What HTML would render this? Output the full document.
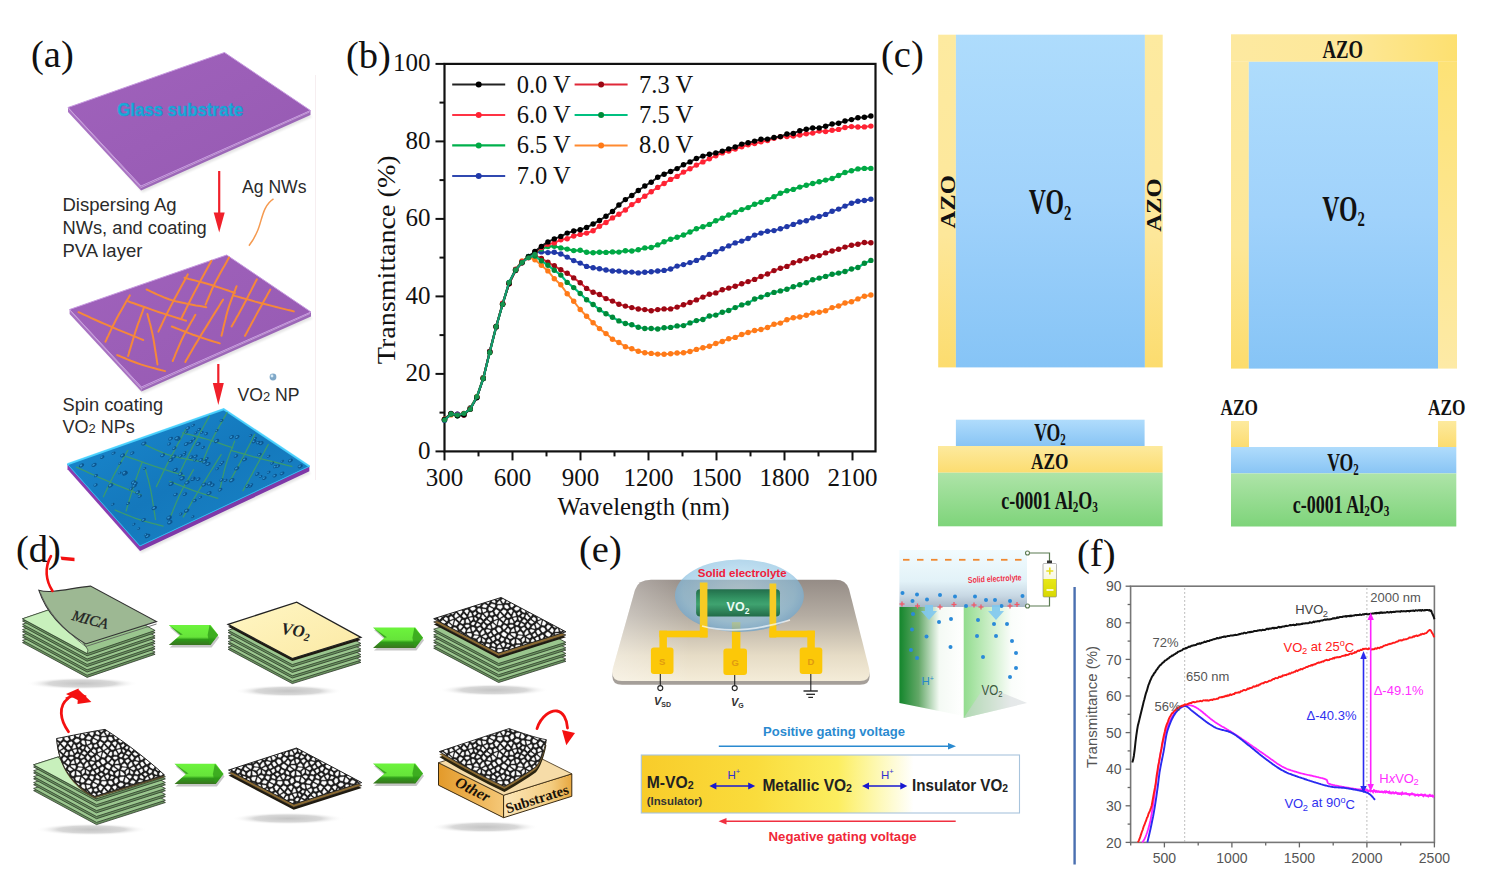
<!DOCTYPE html>
<html><head><meta charset="utf-8"><title>VO2 figure</title>
<style>html,body{margin:0;padding:0;background:#fff;} body{width:1486px;height:882px;overflow:hidden;} svg{display:block}</style>
</head><body>
<svg width="1486" height="882" viewBox="0 0 1486 882">
<rect width="1486" height="882" fill="#fff"/>
<text x="31" y="66.5" font-family='"Liberation Serif", serif' font-size="38.5" fill="#111">(a)</text><defs>
<linearGradient id="aPur" x1="0" y1="0" x2="1" y2="1"><stop offset="0" stop-color="#a062bc"/><stop offset="1" stop-color="#965ab2"/></linearGradient>
<linearGradient id="aBlu" x1="0" y1="0" x2="1" y2="1"><stop offset="0" stop-color="#1a8ad0"/><stop offset="0.5" stop-color="#1478bc"/><stop offset="1" stop-color="#1a86c8"/></linearGradient>
<filter id="soft" x="-10%" y="-10%" width="120%" height="120%"><feGaussianBlur stdDeviation="0.6"/></filter>
<filter id="soft2" x="-10%" y="-10%" width="120%" height="120%"><feGaussianBlur stdDeviation="1.2"/></filter>
</defs><polygon points="68,107.5 141,190.5 310.5,115 228.5,56.5" fill="#000" opacity="0.10" filter="url(#soft2)" transform="translate(1.5,2)"/><polygon points="68,107.5 141,186 141,190.5 68,112" fill="#a872c2"/><polygon points="141,186 310.5,110.5 310.5,115 141,190.5" fill="#9c68b8"/><polygon points="68,107.5 224.5,52.5 310.5,110.5 141,186" fill="url(#aPur)" stroke="#c79ae0" stroke-width="1"/><polyline points="69,109 141,187.5 309.5,112" fill="none" stroke="#c8a0d8" stroke-width="0.9"/><text x="117.2" y="115.8" font-family='"Liberation Sans", sans-serif' font-weight="bold" font-size="18.6" fill="#14b0d8" stroke="#2a8fd0" stroke-width="0.6" textLength="126" lengthAdjust="spacingAndGlyphs">Glass substrate</text><polygon points="69.6,309.5 141.4,391.5 311,316.5 230.7,259" fill="#000" opacity="0.10" filter="url(#soft2)" transform="translate(1.5,2)"/><polygon points="69.6,309.5 141.4,387 141.4,391.5 69.6,314" fill="#a872c2"/><polygon points="141.4,387 311,312 311,316.5 141.4,391.5" fill="#9c68b8"/><polygon points="69.6,309.5 226.7,255 311,312 141.4,387" fill="url(#aPur)" stroke="#c79ae0" stroke-width="1"/><polyline points="70.6,311 141.4,388.5 310,313.5" fill="none" stroke="#c8a0d8" stroke-width="0.9"/><polygon points="67.5,464.3 140,551 309.4,471.3 227.7,413.2" fill="#000" opacity="0.10" filter="url(#soft2)" transform="translate(1.5,2)"/><polygon points="67.5,464.3 140,546 140,551 67.5,469.3" fill="#8a3db0"/><polygon points="140,546 309.4,466.3 309.4,471.3 140,551" fill="#7f38a8"/><polygon points="67.5,464.3 223.7,409.2 309.4,466.3 140,546" fill="url(#aBlu)" stroke="#30b8f0" stroke-width="1"/><polyline points="67.5,464.3 223.7,409.2 309.4,466.3" fill="none" stroke="#4cd4ff" stroke-width="2.2" opacity="0.85"/><polyline points="78.5,312.2 80.8,313.2 83.8,314.6 87.4,316.2 91.4,318.1 95.7,320 100.1,322 104.5,323.9 108.7,325.7 113,327.5 117.8,329.6 122.8,331.6 127.8,333.7 132.6,335.6 136.9,337.4 140.5,338.9 143.2,340" fill="none" stroke="#f5883a" stroke-width="2" stroke-linecap="round"/><polyline points="117.2,355.1 119,355.8 121.4,356.8 124.3,358 127.4,359.3 130.8,360.7 134.2,362 137.6,363.3 140.7,364.4 143.9,365.4 147.3,366.4 150.9,367.4 154.4,368.3 157.7,369.2 160.7,370 163.2,370.6 165.1,371.1" fill="none" stroke="#f5883a" stroke-width="2" stroke-linecap="round"/><polyline points="105.4,341.7 106.2,340.1 107.1,338 108.3,335.6 109.6,332.8 111,329.8 112.4,326.7 114,323.7 115.5,320.7 117.2,317.6 119.1,314.1 121.2,310.4 123.3,306.7 125.3,303.2 127.1,300 128.7,297.4 129.8,295.4" fill="none" stroke="#f5883a" stroke-width="2" stroke-linecap="round"/><polyline points="128.1,356 128.7,354 129.4,351.4 130.4,348.3 131.4,344.9 132.5,341.2 133.6,337.6 134.7,334 135.7,330.8 136.8,327.6 137.9,324.2 139.2,320.8 140.4,317.4 141.5,314.3 142.6,311.4 143.4,309 144.1,307.2" fill="none" stroke="#f5883a" stroke-width="2" stroke-linecap="round"/><polyline points="128.1,301.3 130.5,302.2 133.8,303.3 137.7,304.7 142,306.2 146.5,307.8 151,309.4 155.3,310.9 159.2,312.2 162.9,313.4 166.9,314.7 170.8,315.9 174.6,317.1 178.2,318.2 181.4,319.2 184.1,320.1 186.1,320.7" fill="none" stroke="#f5883a" stroke-width="2" stroke-linecap="round"/><polyline points="146.6,289.5 148.6,290.4 151.1,291.6 154.1,293 157.5,294.6 161.2,296.2 165,297.8 168.9,299.3 172.7,300.5 176.8,301.6 181.4,302.6 186.2,303.6 191.1,304.5 195.8,305.4 200.1,306.1 203.7,306.7 206.3,307.2" fill="none" stroke="#f5883a" stroke-width="2" stroke-linecap="round"/><polyline points="147.4,314 147.8,315.5 148.3,317.4 148.9,319.6 149.6,322.2 150.4,324.9 151.1,327.9 151.8,331 152.5,334.1 153.2,337.6 153.9,341.7 154.6,346 155.3,350.5 156,354.8 156.6,358.7 157.1,362 157.5,364.4" fill="none" stroke="#f5883a" stroke-width="2" stroke-linecap="round"/><polyline points="158.4,331.6 159.2,329.9 160.2,327.8 161.4,325.3 162.7,322.4 164.2,319.3 165.8,315.9 167.5,312.5 169.3,308.9 171.4,304.9 173.8,300.3 176.5,295.3 179.2,290.2 181.9,285.3 184.3,280.9 186.3,277.1 187.8,274.4" fill="none" stroke="#f5883a" stroke-width="2" stroke-linecap="round"/><polyline points="172.7,361 173.5,359.2 174.5,356.8 175.6,353.9 177,350.7 178.4,347.3 179.9,343.9 181.3,340.6 182.8,337.5 184.3,334.5 186.1,331.2 187.9,327.9 189.7,324.7 191.5,321.6 193.1,318.9 194.4,316.5 195.4,314.8" fill="none" stroke="#f5883a" stroke-width="2" stroke-linecap="round"/><polyline points="171.8,326.5 173.7,327.2 176.2,328.2 179.2,329.4 182.5,330.7 186,332 189.6,333.4 193,334.7 196.2,335.8 199.3,336.9 202.7,338 206.1,339.1 209.5,340.2 212.7,341.2 215.6,342.1 218,342.8 219.8,343.4" fill="none" stroke="#f5883a" stroke-width="2" stroke-linecap="round"/><polyline points="185.3,361.9 186.3,360.1 187.7,357.8 189.2,355.1 191,352.1 192.9,348.7 195,345.1 197.3,341.4 199.6,337.5 202.3,333.1 205.4,328.1 208.8,322.6 212.2,317 215.6,311.6 218.7,306.7 221.2,302.6 223.1,299.6" fill="none" stroke="#f5883a" stroke-width="2" stroke-linecap="round"/><polyline points="184.5,277.8 186.4,278.3 189,279 192.1,279.7 195.5,280.6 199.1,281.6 202.8,282.5 206.4,283.5 209.7,284.5 213,285.5 216.6,286.7 220.3,287.9 223.9,289.1 227.3,290.3 230.4,291.4 233,292.2 234.9,292.9" fill="none" stroke="#f5883a" stroke-width="2" stroke-linecap="round"/><polyline points="181.1,319 182.1,317 183.4,314.3 185,311.1 186.7,307.5 188.6,303.7 190.6,299.8 192.6,295.9 194.5,292.1 196.6,288.2 198.9,283.9 201.3,279.3 203.8,274.8 206.1,270.5 208.3,266.6 210.1,263.3 211.4,260.9" fill="none" stroke="#f5883a" stroke-width="2" stroke-linecap="round"/><polyline points="205.5,304.7 206.2,303.1 207,301 208.1,298.5 209.2,295.8 210.5,292.8 211.8,289.7 213.2,286.6 214.7,283.6 216.3,280.4 218.3,276.8 220.3,273.1 222.4,269.3 224.5,265.7 226.3,262.4 227.9,259.6 229,257.6" fill="none" stroke="#f5883a" stroke-width="2" stroke-linecap="round"/><polyline points="221.5,335.8 222,333.7 222.7,330.9 223.4,327.5 224.3,323.8 225.3,319.9 226.2,316 227.2,312.2 228.2,308.9 229.2,305.7 230.4,302.4 231.6,299.1 232.8,295.9 234,292.9 235.1,290.2 235.9,287.9 236.6,286.2" fill="none" stroke="#f5883a" stroke-width="2" stroke-linecap="round"/><polyline points="231.6,326.5 232.5,324.9 233.7,322.8 235.1,320.4 236.6,317.6 238.3,314.7 240,311.6 241.7,308.5 243.3,305.5 245,302.3 246.9,298.7 248.8,294.9 250.8,291.1 252.6,287.5 254.3,284.2 255.7,281.4 256.8,279.4" fill="none" stroke="#f5883a" stroke-width="2" stroke-linecap="round"/><polyline points="245,335.8 245.9,334.1 247.1,331.9 248.5,329.3 250.1,326.4 251.7,323.3 253.5,320.1 255.2,316.9 256.8,313.9 258.5,310.8 260.4,307.4 262.3,303.9 264.3,300.3 266.2,297 267.8,293.9 269.2,291.4 270.3,289.5" fill="none" stroke="#f5883a" stroke-width="2" stroke-linecap="round"/><polyline points="233.2,295.4 235.5,296.1 238.6,296.9 242.3,298 246.5,299.1 250.8,300.3 255.2,301.6 259.5,302.7 263.5,303.8 267.5,304.8 271.8,305.9 276.2,307 280.5,308.1 284.7,309.1 288.4,310.1 291.5,310.8 293.8,311.4" fill="none" stroke="#f5883a" stroke-width="2" stroke-linecap="round"/><clipPath id="cq3"><polygon points="67.5,464.3 223.7,409.2 309.4,466.3 140,546"/></clipPath><g clip-path="url(#cq3)"><polyline points="76.5,467.2 78.8,468.2 81.8,469.6 85.4,471.2 89.4,473.1 93.7,475 98.1,477 102.5,478.9 106.7,480.7 111,482.5 115.8,484.6 120.8,486.6 125.8,488.7 130.6,490.6 134.9,492.4 138.5,493.9 141.2,495" fill="none" stroke="#3a9a70" stroke-width="1.3" stroke-linecap="round"/><polyline points="115.2,510.1 117,510.8 119.4,511.8 122.3,513 125.4,514.3 128.8,515.7 132.2,517 135.6,518.3 138.7,519.4 141.9,520.4 145.3,521.4 148.9,522.4 152.4,523.3 155.7,524.2 158.7,525 161.2,525.6 163.1,526.1" fill="none" stroke="#3a9a70" stroke-width="1.3" stroke-linecap="round"/><polyline points="103.4,496.7 104.2,495.1 105.1,493 106.3,490.6 107.6,487.8 109,484.8 110.4,481.7 112,478.7 113.5,475.7 115.2,472.6 117.1,469.1 119.2,465.4 121.3,461.7 123.3,458.2 125.1,455 126.7,452.4 127.8,450.4" fill="none" stroke="#3a9a70" stroke-width="1.3" stroke-linecap="round"/><polyline points="126.1,511 126.7,509 127.4,506.4 128.4,503.3 129.4,499.9 130.5,496.2 131.6,492.6 132.7,489 133.7,485.8 134.8,482.6 135.9,479.2 137.2,475.8 138.4,472.4 139.5,469.3 140.6,466.4 141.4,464 142.1,462.2" fill="none" stroke="#3a9a70" stroke-width="1.3" stroke-linecap="round"/><polyline points="126.1,456.3 128.5,457.2 131.8,458.3 135.7,459.7 140,461.2 144.5,462.8 149,464.4 153.3,465.9 157.2,467.2 160.9,468.4 164.9,469.7 168.8,470.9 172.6,472.1 176.2,473.2 179.4,474.2 182.1,475.1 184.1,475.7" fill="none" stroke="#3a9a70" stroke-width="1.3" stroke-linecap="round"/><polyline points="144.6,444.5 146.6,445.4 149.1,446.6 152.1,448 155.5,449.6 159.2,451.2 163,452.8 166.9,454.3 170.7,455.5 174.8,456.6 179.4,457.6 184.2,458.6 189.1,459.5 193.8,460.4 198.1,461.1 201.7,461.7 204.3,462.2" fill="none" stroke="#3a9a70" stroke-width="1.3" stroke-linecap="round"/><polyline points="145.4,469 145.8,470.5 146.3,472.4 146.9,474.6 147.6,477.2 148.4,479.9 149.1,482.9 149.8,486 150.5,489.1 151.2,492.6 151.9,496.7 152.6,501 153.3,505.5 154,509.8 154.6,513.7 155.1,517 155.5,519.4" fill="none" stroke="#3a9a70" stroke-width="1.3" stroke-linecap="round"/><polyline points="156.4,486.6 157.2,484.9 158.2,482.8 159.4,480.3 160.7,477.4 162.2,474.3 163.8,470.9 165.5,467.5 167.3,463.9 169.4,459.9 171.8,455.3 174.5,450.3 177.2,445.2 179.9,440.3 182.3,435.9 184.3,432.1 185.8,429.4" fill="none" stroke="#3a9a70" stroke-width="1.3" stroke-linecap="round"/><polyline points="170.7,516 171.5,514.2 172.5,511.8 173.6,508.9 175,505.7 176.4,502.3 177.9,498.9 179.3,495.6 180.8,492.5 182.3,489.5 184.1,486.2 185.9,482.9 187.7,479.7 189.5,476.6 191.1,473.9 192.4,471.5 193.4,469.8" fill="none" stroke="#3a9a70" stroke-width="1.3" stroke-linecap="round"/><polyline points="169.8,481.5 171.7,482.2 174.2,483.2 177.2,484.4 180.5,485.7 184,487 187.6,488.4 191,489.7 194.2,490.8 197.3,491.9 200.7,493 204.1,494.1 207.5,495.2 210.7,496.2 213.6,497.1 216,497.8 217.8,498.4" fill="none" stroke="#3a9a70" stroke-width="1.3" stroke-linecap="round"/><polyline points="183.3,516.9 184.3,515.1 185.7,512.8 187.2,510.1 189,507.1 190.9,503.7 193,500.1 195.3,496.4 197.6,492.5 200.3,488.1 203.4,483.1 206.8,477.6 210.2,472 213.6,466.6 216.7,461.7 219.2,457.6 221.1,454.6" fill="none" stroke="#3a9a70" stroke-width="1.3" stroke-linecap="round"/><polyline points="182.5,432.8 184.4,433.3 187,434 190.1,434.7 193.5,435.6 197.1,436.6 200.8,437.5 204.4,438.5 207.7,439.5 211,440.5 214.6,441.7 218.3,442.9 221.9,444.1 225.3,445.3 228.4,446.4 231,447.2 232.9,447.9" fill="none" stroke="#3a9a70" stroke-width="1.3" stroke-linecap="round"/><polyline points="179.1,474 180.1,472 181.4,469.3 183,466.1 184.7,462.5 186.6,458.7 188.6,454.8 190.6,450.9 192.5,447.1 194.6,443.2 196.9,438.9 199.3,434.3 201.8,429.8 204.1,425.5 206.3,421.6 208.1,418.3 209.4,415.9" fill="none" stroke="#3a9a70" stroke-width="1.3" stroke-linecap="round"/><polyline points="203.5,459.7 204.2,458.1 205,456 206.1,453.5 207.2,450.8 208.5,447.8 209.8,444.7 211.2,441.6 212.7,438.6 214.3,435.4 216.3,431.8 218.3,428.1 220.4,424.3 222.5,420.7 224.3,417.4 225.9,414.6 227,412.6" fill="none" stroke="#3a9a70" stroke-width="1.3" stroke-linecap="round"/><polyline points="219.5,490.8 220,488.7 220.7,485.9 221.4,482.5 222.3,478.8 223.3,474.9 224.2,471 225.2,467.2 226.2,463.9 227.2,460.7 228.4,457.4 229.6,454.1 230.8,450.9 232,447.9 233.1,445.2 233.9,442.9 234.6,441.2" fill="none" stroke="#3a9a70" stroke-width="1.3" stroke-linecap="round"/><polyline points="229.6,481.5 230.5,479.9 231.7,477.8 233.1,475.4 234.6,472.6 236.3,469.7 238,466.6 239.7,463.5 241.3,460.5 243,457.3 244.9,453.7 246.8,449.9 248.8,446.1 250.6,442.5 252.3,439.2 253.7,436.4 254.8,434.4" fill="none" stroke="#3a9a70" stroke-width="1.3" stroke-linecap="round"/><polyline points="243,490.8 243.9,489.1 245.1,486.9 246.5,484.3 248.1,481.4 249.7,478.3 251.5,475.1 253.2,471.9 254.8,468.9 256.5,465.8 258.4,462.4 260.3,458.9 262.3,455.3 264.2,452 265.8,448.9 267.2,446.4 268.3,444.5" fill="none" stroke="#3a9a70" stroke-width="1.3" stroke-linecap="round"/><polyline points="231.2,450.4 233.5,451.1 236.6,451.9 240.3,453 244.5,454.1 248.8,455.3 253.2,456.6 257.5,457.7 261.5,458.8 265.5,459.8 269.8,460.9 274.2,462 278.5,463.1 282.7,464.1 286.4,465.1 289.5,465.8 291.8,466.4" fill="none" stroke="#3a9a70" stroke-width="1.3" stroke-linecap="round"/><ellipse cx="182.2" cy="478.3" rx="2.9" ry="1.8" transform="rotate(-28 182.2 478.3)" fill="#0b4f86" opacity="0.85"/><ellipse cx="181.7" cy="478" rx="1.5" ry="0.9" transform="rotate(-28 182.2 478.3)" fill="#3ea6e4" opacity="0.8"/><ellipse cx="180.5" cy="474.1" rx="2.5" ry="1.6" transform="rotate(-28 180.5 474.1)" fill="#0b4f86" opacity="0.85"/><ellipse cx="180" cy="473.8" rx="1.3" ry="0.8" transform="rotate(-28 180.5 474.1)" fill="#3ea6e4" opacity="0.8"/><ellipse cx="137.7" cy="492.3" rx="2.6" ry="1.6" transform="rotate(-28 137.7 492.3)" fill="#0b4f86" opacity="0.85"/><ellipse cx="137.2" cy="492" rx="1.3" ry="0.8" transform="rotate(-28 137.7 492.3)" fill="#3ea6e4" opacity="0.8"/><ellipse cx="199.1" cy="429.5" rx="2.2" ry="1.3" transform="rotate(-28 199.1 429.5)" fill="#0b4f86" opacity="0.85"/><ellipse cx="198.6" cy="429.2" rx="1.1" ry="0.6" transform="rotate(-28 199.1 429.5)" fill="#3ea6e4" opacity="0.8"/><ellipse cx="143.6" cy="519.9" rx="2.6" ry="1.6" transform="rotate(-28 143.6 519.9)" fill="#0b4f86" opacity="0.85"/><ellipse cx="143.1" cy="519.6" rx="1.3" ry="0.8" transform="rotate(-28 143.6 519.9)" fill="#3ea6e4" opacity="0.8"/><ellipse cx="147.6" cy="536" rx="3" ry="1.8" transform="rotate(-28 147.6 536)" fill="#0b4f86" opacity="0.85"/><ellipse cx="147.1" cy="535.7" rx="1.5" ry="0.9" transform="rotate(-28 147.6 536)" fill="#3ea6e4" opacity="0.8"/><ellipse cx="217.3" cy="468.7" rx="2" ry="1.2" transform="rotate(-28 217.3 468.7)" fill="#0b4f86" opacity="0.85"/><ellipse cx="216.8" cy="468.4" rx="1" ry="0.6" transform="rotate(-28 217.3 468.7)" fill="#3ea6e4" opacity="0.8"/><ellipse cx="112.8" cy="504.3" rx="1.9" ry="1.2" transform="rotate(-28 112.8 504.3)" fill="#0b4f86" opacity="0.85"/><ellipse cx="112.3" cy="504" rx="0.9" ry="0.6" transform="rotate(-28 112.8 504.3)" fill="#3ea6e4" opacity="0.8"/><ellipse cx="119.9" cy="472.9" rx="1.8" ry="1.1" transform="rotate(-28 119.9 472.9)" fill="#0b4f86" opacity="0.85"/><ellipse cx="119.4" cy="472.6" rx="0.9" ry="0.6" transform="rotate(-28 119.9 472.9)" fill="#3ea6e4" opacity="0.8"/><ellipse cx="175.3" cy="469.9" rx="2.8" ry="1.7" transform="rotate(-28 175.3 469.9)" fill="#0b4f86" opacity="0.85"/><ellipse cx="174.8" cy="469.6" rx="1.4" ry="0.8" transform="rotate(-28 175.3 469.9)" fill="#3ea6e4" opacity="0.8"/><ellipse cx="198.3" cy="479.1" rx="2.4" ry="1.5" transform="rotate(-28 198.3 479.1)" fill="#0b4f86" opacity="0.85"/><ellipse cx="197.8" cy="478.8" rx="1.2" ry="0.7" transform="rotate(-28 198.3 479.1)" fill="#3ea6e4" opacity="0.8"/><ellipse cx="206.8" cy="458.6" rx="2.1" ry="1.3" transform="rotate(-28 206.8 458.6)" fill="#0b4f86" opacity="0.85"/><ellipse cx="206.3" cy="458.3" rx="1.1" ry="0.6" transform="rotate(-28 206.8 458.6)" fill="#3ea6e4" opacity="0.8"/><ellipse cx="300.2" cy="466.3" rx="2.8" ry="1.7" transform="rotate(-28 300.2 466.3)" fill="#0b4f86" opacity="0.85"/><ellipse cx="299.7" cy="466" rx="1.4" ry="0.8" transform="rotate(-28 300.2 466.3)" fill="#3ea6e4" opacity="0.8"/><ellipse cx="203.1" cy="447.3" rx="2.1" ry="1.3" transform="rotate(-28 203.1 447.3)" fill="#0b4f86" opacity="0.85"/><ellipse cx="202.6" cy="447" rx="1" ry="0.6" transform="rotate(-28 203.1 447.3)" fill="#3ea6e4" opacity="0.8"/><ellipse cx="122.6" cy="455.4" rx="2.7" ry="1.7" transform="rotate(-28 122.6 455.4)" fill="#0b4f86" opacity="0.85"/><ellipse cx="122.1" cy="455.1" rx="1.4" ry="0.8" transform="rotate(-28 122.6 455.4)" fill="#3ea6e4" opacity="0.8"/><ellipse cx="194.7" cy="500.6" rx="2.3" ry="1.4" transform="rotate(-28 194.7 500.6)" fill="#0b4f86" opacity="0.85"/><ellipse cx="194.2" cy="500.3" rx="1.1" ry="0.7" transform="rotate(-28 194.7 500.6)" fill="#3ea6e4" opacity="0.8"/><ellipse cx="282.3" cy="461.2" rx="1.8" ry="1.1" transform="rotate(-28 282.3 461.2)" fill="#0b4f86" opacity="0.85"/><ellipse cx="281.8" cy="460.9" rx="0.9" ry="0.5" transform="rotate(-28 282.3 461.2)" fill="#3ea6e4" opacity="0.8"/><ellipse cx="169.2" cy="518.6" rx="2.4" ry="1.5" transform="rotate(-28 169.2 518.6)" fill="#0b4f86" opacity="0.85"/><ellipse cx="168.7" cy="518.3" rx="1.2" ry="0.7" transform="rotate(-28 169.2 518.6)" fill="#3ea6e4" opacity="0.8"/><ellipse cx="250.6" cy="435.5" rx="1.9" ry="1.2" transform="rotate(-28 250.6 435.5)" fill="#0b4f86" opacity="0.85"/><ellipse cx="250.1" cy="435.2" rx="0.9" ry="0.6" transform="rotate(-28 250.6 435.5)" fill="#3ea6e4" opacity="0.8"/><ellipse cx="225.6" cy="480.3" rx="2.1" ry="1.3" transform="rotate(-28 225.6 480.3)" fill="#0b4f86" opacity="0.85"/><ellipse cx="225.1" cy="480" rx="1.1" ry="0.6" transform="rotate(-28 225.6 480.3)" fill="#3ea6e4" opacity="0.8"/><ellipse cx="110.6" cy="485.4" rx="3" ry="1.8" transform="rotate(-28 110.6 485.4)" fill="#0b4f86" opacity="0.85"/><ellipse cx="110.1" cy="485.1" rx="1.5" ry="0.9" transform="rotate(-28 110.6 485.4)" fill="#3ea6e4" opacity="0.8"/><ellipse cx="195.7" cy="432.8" rx="2.1" ry="1.3" transform="rotate(-28 195.7 432.8)" fill="#0b4f86" opacity="0.85"/><ellipse cx="195.2" cy="432.5" rx="1" ry="0.6" transform="rotate(-28 195.7 432.8)" fill="#3ea6e4" opacity="0.8"/><ellipse cx="94.1" cy="464.9" rx="2.8" ry="1.7" transform="rotate(-28 94.1 464.9)" fill="#0b4f86" opacity="0.85"/><ellipse cx="93.6" cy="464.6" rx="1.4" ry="0.8" transform="rotate(-28 94.1 464.9)" fill="#3ea6e4" opacity="0.8"/><ellipse cx="139.9" cy="496.1" rx="2.3" ry="1.4" transform="rotate(-28 139.9 496.1)" fill="#0b4f86" opacity="0.85"/><ellipse cx="139.4" cy="495.8" rx="1.2" ry="0.7" transform="rotate(-28 139.9 496.1)" fill="#3ea6e4" opacity="0.8"/><ellipse cx="153.9" cy="507.4" rx="2" ry="1.2" transform="rotate(-28 153.9 507.4)" fill="#0b4f86" opacity="0.85"/><ellipse cx="153.4" cy="507.1" rx="1" ry="0.6" transform="rotate(-28 153.9 507.4)" fill="#3ea6e4" opacity="0.8"/><ellipse cx="178.6" cy="439" rx="2.3" ry="1.4" transform="rotate(-28 178.6 439)" fill="#0b4f86" opacity="0.85"/><ellipse cx="178.1" cy="438.7" rx="1.2" ry="0.7" transform="rotate(-28 178.6 439)" fill="#3ea6e4" opacity="0.8"/><ellipse cx="125.2" cy="473.5" rx="3" ry="1.8" transform="rotate(-28 125.2 473.5)" fill="#0b4f86" opacity="0.85"/><ellipse cx="124.7" cy="473.2" rx="1.5" ry="0.9" transform="rotate(-28 125.2 473.5)" fill="#3ea6e4" opacity="0.8"/><ellipse cx="216.7" cy="441" rx="2.9" ry="1.8" transform="rotate(-28 216.7 441)" fill="#0b4f86" opacity="0.85"/><ellipse cx="216.2" cy="440.7" rx="1.4" ry="0.9" transform="rotate(-28 216.7 441)" fill="#3ea6e4" opacity="0.8"/><ellipse cx="133.5" cy="482.4" rx="2.8" ry="1.8" transform="rotate(-28 133.5 482.4)" fill="#0b4f86" opacity="0.85"/><ellipse cx="133" cy="482.1" rx="1.4" ry="0.8" transform="rotate(-28 133.5 482.4)" fill="#3ea6e4" opacity="0.8"/><ellipse cx="177.1" cy="438.2" rx="3" ry="1.9" transform="rotate(-28 177.1 438.2)" fill="#0b4f86" opacity="0.85"/><ellipse cx="176.6" cy="437.9" rx="1.5" ry="0.9" transform="rotate(-28 177.1 438.2)" fill="#3ea6e4" opacity="0.8"/><ellipse cx="124.5" cy="472.7" rx="2.7" ry="1.7" transform="rotate(-28 124.5 472.7)" fill="#0b4f86" opacity="0.85"/><ellipse cx="124" cy="472.4" rx="1.4" ry="0.8" transform="rotate(-28 124.5 472.7)" fill="#3ea6e4" opacity="0.8"/><ellipse cx="144.6" cy="468.5" rx="1.9" ry="1.2" transform="rotate(-28 144.6 468.5)" fill="#0b4f86" opacity="0.85"/><ellipse cx="144.1" cy="468.2" rx="0.9" ry="0.6" transform="rotate(-28 144.6 468.5)" fill="#3ea6e4" opacity="0.8"/><ellipse cx="128.1" cy="503.4" rx="2.1" ry="1.3" transform="rotate(-28 128.1 503.4)" fill="#0b4f86" opacity="0.85"/><ellipse cx="127.6" cy="503.1" rx="1" ry="0.6" transform="rotate(-28 128.1 503.4)" fill="#3ea6e4" opacity="0.8"/><ellipse cx="191.2" cy="457.1" rx="2.3" ry="1.5" transform="rotate(-28 191.2 457.1)" fill="#0b4f86" opacity="0.85"/><ellipse cx="190.7" cy="456.8" rx="1.2" ry="0.7" transform="rotate(-28 191.2 457.1)" fill="#3ea6e4" opacity="0.8"/><ellipse cx="254.1" cy="441.5" rx="2.5" ry="1.5" transform="rotate(-28 254.1 441.5)" fill="#0b4f86" opacity="0.85"/><ellipse cx="253.6" cy="441.2" rx="1.2" ry="0.7" transform="rotate(-28 254.1 441.5)" fill="#3ea6e4" opacity="0.8"/><ellipse cx="216.8" cy="430.5" rx="2" ry="1.2" transform="rotate(-28 216.8 430.5)" fill="#0b4f86" opacity="0.85"/><ellipse cx="216.3" cy="430.2" rx="1" ry="0.6" transform="rotate(-28 216.8 430.5)" fill="#3ea6e4" opacity="0.8"/><ellipse cx="272.3" cy="463.1" rx="2.1" ry="1.3" transform="rotate(-28 272.3 463.1)" fill="#0b4f86" opacity="0.85"/><ellipse cx="271.8" cy="462.8" rx="1" ry="0.6" transform="rotate(-28 272.3 463.1)" fill="#3ea6e4" opacity="0.8"/><ellipse cx="154.3" cy="508" rx="2.9" ry="1.8" transform="rotate(-28 154.3 508)" fill="#0b4f86" opacity="0.85"/><ellipse cx="153.8" cy="507.7" rx="1.5" ry="0.9" transform="rotate(-28 154.3 508)" fill="#3ea6e4" opacity="0.8"/><ellipse cx="169.9" cy="522.3" rx="2.9" ry="1.8" transform="rotate(-28 169.9 522.3)" fill="#0b4f86" opacity="0.85"/><ellipse cx="169.4" cy="522" rx="1.4" ry="0.9" transform="rotate(-28 169.9 522.3)" fill="#3ea6e4" opacity="0.8"/><ellipse cx="195.2" cy="460" rx="1.9" ry="1.2" transform="rotate(-28 195.2 460)" fill="#0b4f86" opacity="0.85"/><ellipse cx="194.7" cy="459.7" rx="1" ry="0.6" transform="rotate(-28 195.2 460)" fill="#3ea6e4" opacity="0.8"/><ellipse cx="145.8" cy="534.8" rx="2.1" ry="1.3" transform="rotate(-28 145.8 534.8)" fill="#0b4f86" opacity="0.85"/><ellipse cx="145.3" cy="534.5" rx="1" ry="0.6" transform="rotate(-28 145.8 534.8)" fill="#3ea6e4" opacity="0.8"/><ellipse cx="198.2" cy="444" rx="2.8" ry="1.7" transform="rotate(-28 198.2 444)" fill="#0b4f86" opacity="0.85"/><ellipse cx="197.7" cy="443.7" rx="1.4" ry="0.8" transform="rotate(-28 198.2 444)" fill="#3ea6e4" opacity="0.8"/><ellipse cx="184.7" cy="452.6" rx="2" ry="1.2" transform="rotate(-28 184.7 452.6)" fill="#0b4f86" opacity="0.85"/><ellipse cx="184.2" cy="452.3" rx="1" ry="0.6" transform="rotate(-28 184.7 452.6)" fill="#3ea6e4" opacity="0.8"/><ellipse cx="186.4" cy="432" rx="2.1" ry="1.3" transform="rotate(-28 186.4 432)" fill="#0b4f86" opacity="0.85"/><ellipse cx="185.9" cy="431.7" rx="1" ry="0.6" transform="rotate(-28 186.4 432)" fill="#3ea6e4" opacity="0.8"/><ellipse cx="220.1" cy="489.7" rx="2.5" ry="1.6" transform="rotate(-28 220.1 489.7)" fill="#0b4f86" opacity="0.85"/><ellipse cx="219.6" cy="489.4" rx="1.3" ry="0.8" transform="rotate(-28 220.1 489.7)" fill="#3ea6e4" opacity="0.8"/><ellipse cx="180.8" cy="514" rx="2" ry="1.3" transform="rotate(-28 180.8 514)" fill="#0b4f86" opacity="0.85"/><ellipse cx="180.3" cy="513.7" rx="1" ry="0.6" transform="rotate(-28 180.8 514)" fill="#3ea6e4" opacity="0.8"/><ellipse cx="95.6" cy="485" rx="2.3" ry="1.4" transform="rotate(-28 95.6 485)" fill="#0b4f86" opacity="0.85"/><ellipse cx="95.1" cy="484.7" rx="1.2" ry="0.7" transform="rotate(-28 95.6 485)" fill="#3ea6e4" opacity="0.8"/><ellipse cx="96" cy="475.6" rx="2.2" ry="1.4" transform="rotate(-28 96 475.6)" fill="#0b4f86" opacity="0.85"/><ellipse cx="95.5" cy="475.3" rx="1.1" ry="0.7" transform="rotate(-28 96 475.6)" fill="#3ea6e4" opacity="0.8"/><ellipse cx="169.1" cy="443.9" rx="2.2" ry="1.4" transform="rotate(-28 169.1 443.9)" fill="#0b4f86" opacity="0.85"/><ellipse cx="168.6" cy="443.6" rx="1.1" ry="0.7" transform="rotate(-28 169.1 443.9)" fill="#3ea6e4" opacity="0.8"/><ellipse cx="282.1" cy="473.4" rx="2.6" ry="1.6" transform="rotate(-28 282.1 473.4)" fill="#0b4f86" opacity="0.85"/><ellipse cx="281.6" cy="473.1" rx="1.3" ry="0.8" transform="rotate(-28 282.1 473.4)" fill="#3ea6e4" opacity="0.8"/><ellipse cx="220.7" cy="464.4" rx="2" ry="1.2" transform="rotate(-28 220.7 464.4)" fill="#0b4f86" opacity="0.85"/><ellipse cx="220.2" cy="464.1" rx="1" ry="0.6" transform="rotate(-28 220.7 464.4)" fill="#3ea6e4" opacity="0.8"/><ellipse cx="81.5" cy="465.4" rx="2.9" ry="1.8" transform="rotate(-28 81.5 465.4)" fill="#0b4f86" opacity="0.85"/><ellipse cx="81" cy="465.1" rx="1.4" ry="0.9" transform="rotate(-28 81.5 465.4)" fill="#3ea6e4" opacity="0.8"/><ellipse cx="250.6" cy="486.3" rx="1.8" ry="1.1" transform="rotate(-28 250.6 486.3)" fill="#0b4f86" opacity="0.85"/><ellipse cx="250.1" cy="486" rx="0.9" ry="0.5" transform="rotate(-28 250.6 486.3)" fill="#3ea6e4" opacity="0.8"/><ellipse cx="204.7" cy="461.7" rx="2.7" ry="1.7" transform="rotate(-28 204.7 461.7)" fill="#0b4f86" opacity="0.85"/><ellipse cx="204.2" cy="461.4" rx="1.3" ry="0.8" transform="rotate(-28 204.7 461.7)" fill="#3ea6e4" opacity="0.8"/><ellipse cx="192.7" cy="516.7" rx="1.9" ry="1.2" transform="rotate(-28 192.7 516.7)" fill="#0b4f86" opacity="0.85"/><ellipse cx="192.2" cy="516.4" rx="0.9" ry="0.6" transform="rotate(-28 192.7 516.7)" fill="#3ea6e4" opacity="0.8"/><ellipse cx="209.6" cy="483.4" rx="2.9" ry="1.8" transform="rotate(-28 209.6 483.4)" fill="#0b4f86" opacity="0.85"/><ellipse cx="209.1" cy="483.1" rx="1.4" ry="0.9" transform="rotate(-28 209.6 483.4)" fill="#3ea6e4" opacity="0.8"/><ellipse cx="236.8" cy="468.4" rx="2.8" ry="1.7" transform="rotate(-28 236.8 468.4)" fill="#0b4f86" opacity="0.85"/><ellipse cx="236.3" cy="468.1" rx="1.4" ry="0.8" transform="rotate(-28 236.8 468.4)" fill="#3ea6e4" opacity="0.8"/><ellipse cx="237.2" cy="437" rx="2.6" ry="1.6" transform="rotate(-28 237.2 437)" fill="#0b4f86" opacity="0.85"/><ellipse cx="236.7" cy="436.7" rx="1.3" ry="0.8" transform="rotate(-28 237.2 437)" fill="#3ea6e4" opacity="0.8"/><ellipse cx="275.2" cy="466.6" rx="2.3" ry="1.4" transform="rotate(-28 275.2 466.6)" fill="#0b4f86" opacity="0.85"/><ellipse cx="274.7" cy="466.3" rx="1.2" ry="0.7" transform="rotate(-28 275.2 466.6)" fill="#3ea6e4" opacity="0.8"/><ellipse cx="257.3" cy="474" rx="2.5" ry="1.5" transform="rotate(-28 257.3 474)" fill="#0b4f86" opacity="0.85"/><ellipse cx="256.8" cy="473.7" rx="1.2" ry="0.7" transform="rotate(-28 257.3 474)" fill="#3ea6e4" opacity="0.8"/><ellipse cx="195.5" cy="456.3" rx="2.5" ry="1.5" transform="rotate(-28 195.5 456.3)" fill="#0b4f86" opacity="0.85"/><ellipse cx="195" cy="456" rx="1.2" ry="0.7" transform="rotate(-28 195.5 456.3)" fill="#3ea6e4" opacity="0.8"/><ellipse cx="170.7" cy="438.7" rx="2.6" ry="1.6" transform="rotate(-28 170.7 438.7)" fill="#0b4f86" opacity="0.85"/><ellipse cx="170.2" cy="438.4" rx="1.3" ry="0.8" transform="rotate(-28 170.7 438.7)" fill="#3ea6e4" opacity="0.8"/><ellipse cx="290.4" cy="460.5" rx="2.7" ry="1.7" transform="rotate(-28 290.4 460.5)" fill="#0b4f86" opacity="0.85"/><ellipse cx="289.9" cy="460.2" rx="1.3" ry="0.8" transform="rotate(-28 290.4 460.5)" fill="#3ea6e4" opacity="0.8"/><ellipse cx="184.9" cy="494.1" rx="2.5" ry="1.5" transform="rotate(-28 184.9 494.1)" fill="#0b4f86" opacity="0.85"/><ellipse cx="184.4" cy="493.8" rx="1.2" ry="0.7" transform="rotate(-28 184.9 494.1)" fill="#3ea6e4" opacity="0.8"/><ellipse cx="200.4" cy="497.3" rx="1.9" ry="1.2" transform="rotate(-28 200.4 497.3)" fill="#0b4f86" opacity="0.85"/><ellipse cx="199.9" cy="497" rx="1" ry="0.6" transform="rotate(-28 200.4 497.3)" fill="#3ea6e4" opacity="0.8"/><ellipse cx="187.9" cy="428.1" rx="2.5" ry="1.6" transform="rotate(-28 187.9 428.1)" fill="#0b4f86" opacity="0.85"/><ellipse cx="187.4" cy="427.8" rx="1.3" ry="0.8" transform="rotate(-28 187.9 428.1)" fill="#3ea6e4" opacity="0.8"/><ellipse cx="162.7" cy="455.3" rx="2.6" ry="1.6" transform="rotate(-28 162.7 455.3)" fill="#0b4f86" opacity="0.85"/><ellipse cx="162.2" cy="455" rx="1.3" ry="0.8" transform="rotate(-28 162.7 455.3)" fill="#3ea6e4" opacity="0.8"/><ellipse cx="193.1" cy="478.9" rx="2.9" ry="1.8" transform="rotate(-28 193.1 478.9)" fill="#0b4f86" opacity="0.85"/><ellipse cx="192.6" cy="478.6" rx="1.5" ry="0.9" transform="rotate(-28 193.1 478.9)" fill="#3ea6e4" opacity="0.8"/><ellipse cx="113.6" cy="453.2" rx="2.2" ry="1.3" transform="rotate(-28 113.6 453.2)" fill="#0b4f86" opacity="0.85"/><ellipse cx="113.1" cy="452.9" rx="1.1" ry="0.6" transform="rotate(-28 113.6 453.2)" fill="#3ea6e4" opacity="0.8"/><ellipse cx="190.2" cy="442.3" rx="2" ry="1.2" transform="rotate(-28 190.2 442.3)" fill="#0b4f86" opacity="0.85"/><ellipse cx="189.7" cy="442" rx="1" ry="0.6" transform="rotate(-28 190.2 442.3)" fill="#3ea6e4" opacity="0.8"/><ellipse cx="259.6" cy="454.6" rx="2.3" ry="1.4" transform="rotate(-28 259.6 454.6)" fill="#0b4f86" opacity="0.85"/><ellipse cx="259.1" cy="454.3" rx="1.2" ry="0.7" transform="rotate(-28 259.6 454.6)" fill="#3ea6e4" opacity="0.8"/><ellipse cx="231.7" cy="437" rx="2.6" ry="1.6" transform="rotate(-28 231.7 437)" fill="#0b4f86" opacity="0.85"/><ellipse cx="231.2" cy="436.7" rx="1.3" ry="0.8" transform="rotate(-28 231.7 437)" fill="#3ea6e4" opacity="0.8"/><ellipse cx="134.2" cy="485.7" rx="2.8" ry="1.7" transform="rotate(-28 134.2 485.7)" fill="#0b4f86" opacity="0.85"/><ellipse cx="133.7" cy="485.4" rx="1.4" ry="0.8" transform="rotate(-28 134.2 485.7)" fill="#3ea6e4" opacity="0.8"/><ellipse cx="278" cy="466.1" rx="2.3" ry="1.4" transform="rotate(-28 278 466.1)" fill="#0b4f86" opacity="0.85"/><ellipse cx="277.5" cy="465.8" rx="1.1" ry="0.7" transform="rotate(-28 278 466.1)" fill="#3ea6e4" opacity="0.8"/><ellipse cx="184.3" cy="454.8" rx="2" ry="1.2" transform="rotate(-28 184.3 454.8)" fill="#0b4f86" opacity="0.85"/><ellipse cx="183.8" cy="454.5" rx="1" ry="0.6" transform="rotate(-28 184.3 454.8)" fill="#3ea6e4" opacity="0.8"/><ellipse cx="209.1" cy="493.2" rx="2.8" ry="1.7" transform="rotate(-28 209.1 493.2)" fill="#0b4f86" opacity="0.85"/><ellipse cx="208.6" cy="492.9" rx="1.4" ry="0.8" transform="rotate(-28 209.1 493.2)" fill="#3ea6e4" opacity="0.8"/><ellipse cx="251.3" cy="484.8" rx="2.1" ry="1.3" transform="rotate(-28 251.3 484.8)" fill="#0b4f86" opacity="0.85"/><ellipse cx="250.8" cy="484.5" rx="1.1" ry="0.6" transform="rotate(-28 251.3 484.8)" fill="#3ea6e4" opacity="0.8"/><ellipse cx="131.1" cy="488.9" rx="2.1" ry="1.3" transform="rotate(-28 131.1 488.9)" fill="#0b4f86" opacity="0.85"/><ellipse cx="130.6" cy="488.6" rx="1.1" ry="0.6" transform="rotate(-28 131.1 488.9)" fill="#3ea6e4" opacity="0.8"/><ellipse cx="135.4" cy="483.5" rx="2.6" ry="1.6" transform="rotate(-28 135.4 483.5)" fill="#0b4f86" opacity="0.85"/><ellipse cx="134.9" cy="483.2" rx="1.3" ry="0.8" transform="rotate(-28 135.4 483.5)" fill="#3ea6e4" opacity="0.8"/><ellipse cx="170.8" cy="460" rx="2.8" ry="1.7" transform="rotate(-28 170.8 460)" fill="#0b4f86" opacity="0.85"/><ellipse cx="170.3" cy="459.7" rx="1.4" ry="0.8" transform="rotate(-28 170.8 460)" fill="#3ea6e4" opacity="0.8"/><ellipse cx="255.2" cy="438.4" rx="1.9" ry="1.2" transform="rotate(-28 255.2 438.4)" fill="#0b4f86" opacity="0.85"/><ellipse cx="254.7" cy="438.1" rx="0.9" ry="0.6" transform="rotate(-28 255.2 438.4)" fill="#3ea6e4" opacity="0.8"/><ellipse cx="138.6" cy="528.7" rx="1.8" ry="1.1" transform="rotate(-28 138.6 528.7)" fill="#0b4f86" opacity="0.85"/><ellipse cx="138.1" cy="528.4" rx="0.9" ry="0.6" transform="rotate(-28 138.6 528.7)" fill="#3ea6e4" opacity="0.8"/><ellipse cx="222.4" cy="462.4" rx="2.2" ry="1.3" transform="rotate(-28 222.4 462.4)" fill="#0b4f86" opacity="0.85"/><ellipse cx="221.9" cy="462.1" rx="1.1" ry="0.7" transform="rotate(-28 222.4 462.4)" fill="#3ea6e4" opacity="0.8"/><ellipse cx="193.2" cy="425.3" rx="2" ry="1.2" transform="rotate(-28 193.2 425.3)" fill="#0b4f86" opacity="0.85"/><ellipse cx="192.7" cy="425" rx="1" ry="0.6" transform="rotate(-28 193.2 425.3)" fill="#3ea6e4" opacity="0.8"/><ellipse cx="143.9" cy="443.5" rx="2.8" ry="1.7" transform="rotate(-28 143.9 443.5)" fill="#0b4f86" opacity="0.85"/><ellipse cx="143.4" cy="443.2" rx="1.4" ry="0.8" transform="rotate(-28 143.9 443.5)" fill="#3ea6e4" opacity="0.8"/><ellipse cx="119.9" cy="463.2" rx="1.9" ry="1.2" transform="rotate(-28 119.9 463.2)" fill="#0b4f86" opacity="0.85"/><ellipse cx="119.4" cy="462.9" rx="0.9" ry="0.6" transform="rotate(-28 119.9 463.2)" fill="#3ea6e4" opacity="0.8"/><ellipse cx="200.9" cy="460" rx="2.6" ry="1.6" transform="rotate(-28 200.9 460)" fill="#0b4f86" opacity="0.85"/><ellipse cx="200.4" cy="459.7" rx="1.3" ry="0.8" transform="rotate(-28 200.9 460)" fill="#3ea6e4" opacity="0.8"/><ellipse cx="231.8" cy="480.2" rx="3" ry="1.8" transform="rotate(-28 231.8 480.2)" fill="#0b4f86" opacity="0.85"/><ellipse cx="231.3" cy="479.9" rx="1.5" ry="0.9" transform="rotate(-28 231.8 480.2)" fill="#3ea6e4" opacity="0.8"/><ellipse cx="190.9" cy="441.7" rx="2.4" ry="1.5" transform="rotate(-28 190.9 441.7)" fill="#0b4f86" opacity="0.85"/><ellipse cx="190.4" cy="441.4" rx="1.2" ry="0.7" transform="rotate(-28 190.9 441.7)" fill="#3ea6e4" opacity="0.8"/><ellipse cx="102.2" cy="457.2" rx="2.4" ry="1.5" transform="rotate(-28 102.2 457.2)" fill="#0b4f86" opacity="0.85"/><ellipse cx="101.7" cy="456.9" rx="1.2" ry="0.7" transform="rotate(-28 102.2 457.2)" fill="#3ea6e4" opacity="0.8"/><ellipse cx="193.8" cy="438.9" rx="2.1" ry="1.3" transform="rotate(-28 193.8 438.9)" fill="#0b4f86" opacity="0.85"/><ellipse cx="193.3" cy="438.6" rx="1.1" ry="0.6" transform="rotate(-28 193.8 438.9)" fill="#3ea6e4" opacity="0.8"/><ellipse cx="175.6" cy="494.5" rx="2.4" ry="1.5" transform="rotate(-28 175.6 494.5)" fill="#0b4f86" opacity="0.85"/><ellipse cx="175.1" cy="494.2" rx="1.2" ry="0.7" transform="rotate(-28 175.6 494.5)" fill="#3ea6e4" opacity="0.8"/><ellipse cx="221.6" cy="479.9" rx="2.3" ry="1.4" transform="rotate(-28 221.6 479.9)" fill="#0b4f86" opacity="0.85"/><ellipse cx="221.1" cy="479.6" rx="1.1" ry="0.7" transform="rotate(-28 221.6 479.9)" fill="#3ea6e4" opacity="0.8"/><ellipse cx="260.7" cy="476.4" rx="1.9" ry="1.2" transform="rotate(-28 260.7 476.4)" fill="#0b4f86" opacity="0.85"/><ellipse cx="260.2" cy="476.1" rx="1" ry="0.6" transform="rotate(-28 260.7 476.4)" fill="#3ea6e4" opacity="0.8"/><ellipse cx="268.6" cy="456.2" rx="2" ry="1.2" transform="rotate(-28 268.6 456.2)" fill="#0b4f86" opacity="0.85"/><ellipse cx="268.1" cy="455.9" rx="1" ry="0.6" transform="rotate(-28 268.6 456.2)" fill="#3ea6e4" opacity="0.8"/><ellipse cx="187.1" cy="482.5" rx="2.9" ry="1.8" transform="rotate(-28 187.1 482.5)" fill="#0b4f86" opacity="0.85"/><ellipse cx="186.6" cy="482.2" rx="1.4" ry="0.9" transform="rotate(-28 187.1 482.5)" fill="#3ea6e4" opacity="0.8"/><ellipse cx="171.2" cy="483.8" rx="2.9" ry="1.8" transform="rotate(-28 171.2 483.8)" fill="#0b4f86" opacity="0.85"/><ellipse cx="170.7" cy="483.5" rx="1.4" ry="0.9" transform="rotate(-28 171.2 483.8)" fill="#3ea6e4" opacity="0.8"/><ellipse cx="264.4" cy="478.2" rx="2.4" ry="1.5" transform="rotate(-28 264.4 478.2)" fill="#0b4f86" opacity="0.85"/><ellipse cx="263.9" cy="477.9" rx="1.2" ry="0.7" transform="rotate(-28 264.4 478.2)" fill="#3ea6e4" opacity="0.8"/><ellipse cx="186.3" cy="444" rx="2.7" ry="1.7" transform="rotate(-28 186.3 444)" fill="#0b4f86" opacity="0.85"/><ellipse cx="185.8" cy="443.7" rx="1.3" ry="0.8" transform="rotate(-28 186.3 444)" fill="#3ea6e4" opacity="0.8"/><ellipse cx="244.7" cy="459.4" rx="2.7" ry="1.6" transform="rotate(-28 244.7 459.4)" fill="#0b4f86" opacity="0.85"/><ellipse cx="244.2" cy="459.1" rx="1.3" ry="0.8" transform="rotate(-28 244.7 459.4)" fill="#3ea6e4" opacity="0.8"/><ellipse cx="169.1" cy="517.6" rx="3" ry="1.8" transform="rotate(-28 169.1 517.6)" fill="#0b4f86" opacity="0.85"/><ellipse cx="168.6" cy="517.3" rx="1.5" ry="0.9" transform="rotate(-28 169.1 517.6)" fill="#3ea6e4" opacity="0.8"/><ellipse cx="261.1" cy="443.2" rx="2.7" ry="1.7" transform="rotate(-28 261.1 443.2)" fill="#0b4f86" opacity="0.85"/><ellipse cx="260.6" cy="442.9" rx="1.4" ry="0.8" transform="rotate(-28 261.1 443.2)" fill="#3ea6e4" opacity="0.8"/><ellipse cx="186.7" cy="510.6" rx="2.8" ry="1.8" transform="rotate(-28 186.7 510.6)" fill="#0b4f86" opacity="0.85"/><ellipse cx="186.2" cy="510.3" rx="1.4" ry="0.8" transform="rotate(-28 186.7 510.6)" fill="#3ea6e4" opacity="0.8"/><ellipse cx="132.3" cy="453.1" rx="2.3" ry="1.4" transform="rotate(-28 132.3 453.1)" fill="#0b4f86" opacity="0.85"/><ellipse cx="131.8" cy="452.8" rx="1.2" ry="0.7" transform="rotate(-28 132.3 453.1)" fill="#3ea6e4" opacity="0.8"/><ellipse cx="212.5" cy="485.1" rx="2.4" ry="1.5" transform="rotate(-28 212.5 485.1)" fill="#0b4f86" opacity="0.85"/><ellipse cx="212" cy="484.8" rx="1.2" ry="0.7" transform="rotate(-28 212.5 485.1)" fill="#3ea6e4" opacity="0.8"/><ellipse cx="133.8" cy="524.2" rx="1.9" ry="1.2" transform="rotate(-28 133.8 524.2)" fill="#0b4f86" opacity="0.85"/><ellipse cx="133.3" cy="523.9" rx="0.9" ry="0.6" transform="rotate(-28 133.8 524.2)" fill="#3ea6e4" opacity="0.8"/><ellipse cx="206.1" cy="433.7" rx="2.2" ry="1.4" transform="rotate(-28 206.1 433.7)" fill="#0b4f86" opacity="0.85"/><ellipse cx="205.6" cy="433.4" rx="1.1" ry="0.7" transform="rotate(-28 206.1 433.7)" fill="#3ea6e4" opacity="0.8"/><ellipse cx="201.9" cy="432.5" rx="2" ry="1.2" transform="rotate(-28 201.9 432.5)" fill="#0b4f86" opacity="0.85"/><ellipse cx="201.4" cy="432.2" rx="1" ry="0.6" transform="rotate(-28 201.9 432.5)" fill="#3ea6e4" opacity="0.8"/><ellipse cx="204" cy="484.6" rx="2.8" ry="1.7" transform="rotate(-28 204 484.6)" fill="#0b4f86" opacity="0.85"/><ellipse cx="203.5" cy="484.3" rx="1.4" ry="0.8" transform="rotate(-28 204 484.6)" fill="#3ea6e4" opacity="0.8"/><ellipse cx="247.5" cy="486.1" rx="2.4" ry="1.5" transform="rotate(-28 247.5 486.1)" fill="#0b4f86" opacity="0.85"/><ellipse cx="247" cy="485.8" rx="1.2" ry="0.7" transform="rotate(-28 247.5 486.1)" fill="#3ea6e4" opacity="0.8"/><ellipse cx="221.6" cy="420.5" rx="2.1" ry="1.3" transform="rotate(-28 221.6 420.5)" fill="#0b4f86" opacity="0.85"/><ellipse cx="221.1" cy="420.2" rx="1" ry="0.6" transform="rotate(-28 221.6 420.5)" fill="#3ea6e4" opacity="0.8"/><ellipse cx="173.9" cy="456.5" rx="2.7" ry="1.7" transform="rotate(-28 173.9 456.5)" fill="#0b4f86" opacity="0.85"/><ellipse cx="173.4" cy="456.2" rx="1.3" ry="0.8" transform="rotate(-28 173.9 456.5)" fill="#3ea6e4" opacity="0.8"/><ellipse cx="208.1" cy="464" rx="2.8" ry="1.7" transform="rotate(-28 208.1 464)" fill="#0b4f86" opacity="0.85"/><ellipse cx="207.6" cy="463.7" rx="1.4" ry="0.8" transform="rotate(-28 208.1 464)" fill="#3ea6e4" opacity="0.8"/><ellipse cx="180.5" cy="455.9" rx="2.3" ry="1.4" transform="rotate(-28 180.5 455.9)" fill="#0b4f86" opacity="0.85"/><ellipse cx="180" cy="455.6" rx="1.1" ry="0.7" transform="rotate(-28 180.5 455.9)" fill="#3ea6e4" opacity="0.8"/><ellipse cx="268.7" cy="472.2" rx="2" ry="1.3" transform="rotate(-28 268.7 472.2)" fill="#0b4f86" opacity="0.85"/><ellipse cx="268.2" cy="471.9" rx="1" ry="0.6" transform="rotate(-28 268.7 472.2)" fill="#3ea6e4" opacity="0.8"/><ellipse cx="274.8" cy="475.6" rx="2.4" ry="1.5" transform="rotate(-28 274.8 475.6)" fill="#0b4f86" opacity="0.85"/><ellipse cx="274.3" cy="475.3" rx="1.2" ry="0.7" transform="rotate(-28 274.8 475.6)" fill="#3ea6e4" opacity="0.8"/><ellipse cx="174.3" cy="448.2" rx="2.4" ry="1.5" transform="rotate(-28 174.3 448.2)" fill="#0b4f86" opacity="0.85"/><ellipse cx="173.8" cy="447.9" rx="1.2" ry="0.7" transform="rotate(-28 174.3 448.2)" fill="#3ea6e4" opacity="0.8"/><ellipse cx="193.3" cy="478" rx="1.8" ry="1.1" transform="rotate(-28 193.3 478)" fill="#0b4f86" opacity="0.85"/><ellipse cx="192.8" cy="477.7" rx="0.9" ry="0.5" transform="rotate(-28 193.3 478)" fill="#3ea6e4" opacity="0.8"/><ellipse cx="258.2" cy="442.6" rx="2.3" ry="1.4" transform="rotate(-28 258.2 442.6)" fill="#0b4f86" opacity="0.85"/><ellipse cx="257.7" cy="442.3" rx="1.1" ry="0.7" transform="rotate(-28 258.2 442.6)" fill="#3ea6e4" opacity="0.8"/><ellipse cx="236" cy="456" rx="2.4" ry="1.5" transform="rotate(-28 236 456)" fill="#0b4f86" opacity="0.85"/><ellipse cx="235.5" cy="455.7" rx="1.2" ry="0.7" transform="rotate(-28 236 456)" fill="#3ea6e4" opacity="0.8"/></g><text x="62.5" y="211.2" font-family='"Liberation Sans", sans-serif' font-size="18.5" fill="#2a2a2a">Dispersing Ag</text><text x="62.5" y="234" font-family='"Liberation Sans", sans-serif' font-size="18.3" fill="#2a2a2a">NWs, and coating</text><text x="62.5" y="257" font-family='"Liberation Sans", sans-serif' font-size="18.5" fill="#2a2a2a">PVA layer</text><text x="242" y="192.6" font-family='"Liberation Sans", sans-serif' font-size="17.6" fill="#2a2a2a">Ag NWs</text><text x="62.5" y="411.2" font-family='"Liberation Sans", sans-serif' font-size="18.3" fill="#2a2a2a">Spin coating</text><text x="62.5" y="433" font-family='"Liberation Sans", sans-serif' font-size="18" fill="#2a2a2a">VO<tspan font-size="13">2</tspan> NPs</text><text x="237.5" y="401.2" font-family='"Liberation Sans", sans-serif' font-size="17.6" fill="#2a2a2a">VO<tspan font-size="13">2</tspan> NP</text><line x1="219.2" y1="171" x2="219.2" y2="214.5" stroke="#f0202a" stroke-width="2.2"/><polygon points="213.7,212.5 224.7,212.5 219.2,232.5" fill="#f0202a"/><line x1="218.3" y1="364" x2="218.3" y2="385" stroke="#f0202a" stroke-width="2.2"/><polygon points="212.8,383 223.8,383 218.3,405" fill="#f0202a"/><path d="M273.5,198.8 C262,206 262,222 257,232 C254,239 251,243 249,245.7" fill="none" stroke="#f59a50" stroke-width="1.5"/><circle cx="273" cy="377" r="3.4" fill="#7fa8c8"/><circle cx="272" cy="376" r="1.4" fill="#d8ecf8"/><line x1="315.5" y1="75" x2="315.5" y2="480" stroke="#f6eef0" stroke-width="1"/><text x="346" y="68" font-family='"Liberation Serif", serif' font-size="38.5" fill="#111">(b)</text><rect x="444.5" y="63.9" width="431.0" height="387.5" fill="none" stroke="#111" stroke-width="2.2"/><line x1="435.5" y1="451.4" x2="444.5" y2="451.4" stroke="#111" stroke-width="2"/><line x1="439.5" y1="412.6" x2="444.5" y2="412.6" stroke="#111" stroke-width="2"/><line x1="435.5" y1="373.9" x2="444.5" y2="373.9" stroke="#111" stroke-width="2"/><line x1="439.5" y1="335.1" x2="444.5" y2="335.1" stroke="#111" stroke-width="2"/><line x1="435.5" y1="296.4" x2="444.5" y2="296.4" stroke="#111" stroke-width="2"/><line x1="439.5" y1="257.6" x2="444.5" y2="257.6" stroke="#111" stroke-width="2"/><line x1="435.5" y1="218.9" x2="444.5" y2="218.9" stroke="#111" stroke-width="2"/><line x1="439.5" y1="180.1" x2="444.5" y2="180.1" stroke="#111" stroke-width="2"/><line x1="435.5" y1="141.4" x2="444.5" y2="141.4" stroke="#111" stroke-width="2"/><line x1="439.5" y1="102.6" x2="444.5" y2="102.6" stroke="#111" stroke-width="2"/><line x1="435.5" y1="63.9" x2="444.5" y2="63.9" stroke="#111" stroke-width="2"/><text x="430.5" y="458.6" text-anchor="end" font-family='"Liberation Serif", serif' font-size="25" fill="#111">0</text><text x="430.5" y="381.1" text-anchor="end" font-family='"Liberation Serif", serif' font-size="25" fill="#111">20</text><text x="430.5" y="303.6" text-anchor="end" font-family='"Liberation Serif", serif' font-size="25" fill="#111">40</text><text x="430.5" y="226.1" text-anchor="end" font-family='"Liberation Serif", serif' font-size="25" fill="#111">60</text><text x="430.5" y="148.6" text-anchor="end" font-family='"Liberation Serif", serif' font-size="25" fill="#111">80</text><text x="430.5" y="71.1" text-anchor="end" font-family='"Liberation Serif", serif' font-size="25" fill="#111">100</text><line x1="444.5" y1="451.4" x2="444.5" y2="460.4" stroke="#111" stroke-width="2"/><line x1="478.5" y1="451.4" x2="478.5" y2="456.4" stroke="#111" stroke-width="2"/><line x1="512.5" y1="451.4" x2="512.5" y2="460.4" stroke="#111" stroke-width="2"/><line x1="546.5" y1="451.4" x2="546.5" y2="456.4" stroke="#111" stroke-width="2"/><line x1="580.5" y1="451.4" x2="580.5" y2="460.4" stroke="#111" stroke-width="2"/><line x1="614.5" y1="451.4" x2="614.5" y2="456.4" stroke="#111" stroke-width="2"/><line x1="648.5" y1="451.4" x2="648.5" y2="460.4" stroke="#111" stroke-width="2"/><line x1="682.5" y1="451.4" x2="682.5" y2="456.4" stroke="#111" stroke-width="2"/><line x1="716.5" y1="451.4" x2="716.5" y2="460.4" stroke="#111" stroke-width="2"/><line x1="750.5" y1="451.4" x2="750.5" y2="456.4" stroke="#111" stroke-width="2"/><line x1="784.5" y1="451.4" x2="784.5" y2="460.4" stroke="#111" stroke-width="2"/><line x1="818.5" y1="451.4" x2="818.5" y2="456.4" stroke="#111" stroke-width="2"/><line x1="852.5" y1="451.4" x2="852.5" y2="460.4" stroke="#111" stroke-width="2"/><text x="444.5" y="486" text-anchor="middle" font-family='"Liberation Serif", serif' font-size="25" fill="#111">300</text><text x="512.5" y="486" text-anchor="middle" font-family='"Liberation Serif", serif' font-size="25" fill="#111">600</text><text x="580.5" y="486" text-anchor="middle" font-family='"Liberation Serif", serif' font-size="25" fill="#111">900</text><text x="648.5" y="486" text-anchor="middle" font-family='"Liberation Serif", serif' font-size="25" fill="#111">1200</text><text x="716.5" y="486" text-anchor="middle" font-family='"Liberation Serif", serif' font-size="25" fill="#111">1500</text><text x="784.5" y="486" text-anchor="middle" font-family='"Liberation Serif", serif' font-size="25" fill="#111">1800</text><text x="852.5" y="486" text-anchor="middle" font-family='"Liberation Serif", serif' font-size="25" fill="#111">2100</text><text x="643.4" y="515.4" text-anchor="middle" font-family='"Liberation Serif", serif' font-size="25.2" fill="#111" textLength="172" lengthAdjust="spacingAndGlyphs">Wavelength (nm)</text><text transform="translate(395.3,259.8) rotate(-90)" text-anchor="middle" font-family='"Liberation Serif", serif' font-size="26" fill="#111" textLength="209" lengthAdjust="spacingAndGlyphs">Transmittance (%)</text><polyline points="444.5,419.3 451,414.9 457.4,414.9 463.9,414.4 470.3,407.9 476.8,396.6 483.3,378.5 489.7,352.3 496.2,327.3 502.6,303.9 509.1,282.6 515.6,269.2 522,261 528.5,256.8 534.9,259.8 541.4,265.2 547.9,270.9 554.3,278.7 560.8,284.8 567.2,293.7 573.7,301.3 580.2,309.5 586.6,316.2 593.1,322.8 599.5,328.6 606,333.6 612.5,339.3 618.9,342.5 625.4,346.7 631.8,348.7 638.3,351.2 644.8,352.8 651.2,353.4 657.7,354.1 664.1,354.2 670.6,353.8 677.1,353 683.5,352.8 690,351.5 696.4,349.4 702.9,347.8 709.4,346.2 715.8,343.5 722.3,341.5 728.7,338.7 735.2,337.4 741.7,334.5 748.1,332.5 754.6,330.5 761,329.5 767.5,327.5 774,324.3 780.4,323.1 786.9,319.7 793.3,317.7 799.8,317 806.3,315.2 812.7,313 819.2,312.2 825.6,310.7 832.1,307.6 838.6,306 845,303 851.5,301.7 857.9,298.9 864.4,296.2 870.9,295" fill="none" stroke="#ff8a30" stroke-width="2.0" stroke-linejoin="round"/><g fill="#ff7a18"><circle cx="444.5" cy="419.3" r="2.7"/><circle cx="451" cy="414.9" r="2.7"/><circle cx="457.4" cy="414.9" r="2.7"/><circle cx="463.9" cy="414.4" r="2.7"/><circle cx="470.3" cy="407.9" r="2.7"/><circle cx="476.8" cy="396.6" r="2.7"/><circle cx="483.3" cy="378.5" r="2.7"/><circle cx="489.7" cy="352.3" r="2.7"/><circle cx="496.2" cy="327.3" r="2.7"/><circle cx="502.6" cy="303.9" r="2.7"/><circle cx="509.1" cy="282.6" r="2.7"/><circle cx="515.6" cy="269.2" r="2.7"/><circle cx="522" cy="261" r="2.7"/><circle cx="528.5" cy="256.8" r="2.7"/><circle cx="534.9" cy="259.8" r="2.7"/><circle cx="541.4" cy="265.2" r="2.7"/><circle cx="547.9" cy="270.9" r="2.7"/><circle cx="554.3" cy="278.7" r="2.7"/><circle cx="560.8" cy="284.8" r="2.7"/><circle cx="567.2" cy="293.7" r="2.7"/><circle cx="573.7" cy="301.3" r="2.7"/><circle cx="580.2" cy="309.5" r="2.7"/><circle cx="586.6" cy="316.2" r="2.7"/><circle cx="593.1" cy="322.8" r="2.7"/><circle cx="599.5" cy="328.6" r="2.7"/><circle cx="606" cy="333.6" r="2.7"/><circle cx="612.5" cy="339.3" r="2.7"/><circle cx="618.9" cy="342.5" r="2.7"/><circle cx="625.4" cy="346.7" r="2.7"/><circle cx="631.8" cy="348.7" r="2.7"/><circle cx="638.3" cy="351.2" r="2.7"/><circle cx="644.8" cy="352.8" r="2.7"/><circle cx="651.2" cy="353.4" r="2.7"/><circle cx="657.7" cy="354.1" r="2.7"/><circle cx="664.1" cy="354.2" r="2.7"/><circle cx="670.6" cy="353.8" r="2.7"/><circle cx="677.1" cy="353" r="2.7"/><circle cx="683.5" cy="352.8" r="2.7"/><circle cx="690" cy="351.5" r="2.7"/><circle cx="696.4" cy="349.4" r="2.7"/><circle cx="702.9" cy="347.8" r="2.7"/><circle cx="709.4" cy="346.2" r="2.7"/><circle cx="715.8" cy="343.5" r="2.7"/><circle cx="722.3" cy="341.5" r="2.7"/><circle cx="728.7" cy="338.7" r="2.7"/><circle cx="735.2" cy="337.4" r="2.7"/><circle cx="741.7" cy="334.5" r="2.7"/><circle cx="748.1" cy="332.5" r="2.7"/><circle cx="754.6" cy="330.5" r="2.7"/><circle cx="761" cy="329.5" r="2.7"/><circle cx="767.5" cy="327.5" r="2.7"/><circle cx="774" cy="324.3" r="2.7"/><circle cx="780.4" cy="323.1" r="2.7"/><circle cx="786.9" cy="319.7" r="2.7"/><circle cx="793.3" cy="317.7" r="2.7"/><circle cx="799.8" cy="317" r="2.7"/><circle cx="806.3" cy="315.2" r="2.7"/><circle cx="812.7" cy="313" r="2.7"/><circle cx="819.2" cy="312.2" r="2.7"/><circle cx="825.6" cy="310.7" r="2.7"/><circle cx="832.1" cy="307.6" r="2.7"/><circle cx="838.6" cy="306" r="2.7"/><circle cx="845" cy="303" r="2.7"/><circle cx="851.5" cy="301.7" r="2.7"/><circle cx="857.9" cy="298.9" r="2.7"/><circle cx="864.4" cy="296.2" r="2.7"/><circle cx="870.9" cy="295" r="2.7"/></g><polyline points="444.5,420.1 451,413.9 457.4,414.3 463.9,413.5 470.3,409.2 476.8,397.3 483.3,377.8 489.7,352.2 496.2,326.4 502.6,304.2 509.1,283.8 515.6,270.5 522,262.7 528.5,256.9 534.9,255.6 541.4,258.4 547.9,262.3 554.3,265.8 560.8,269.8 567.2,273.3 573.7,277.9 580.2,282.7 586.6,288.4 593.1,292.3 599.5,294.5 606,298.6 612.5,301.1 618.9,304.2 625.4,306.1 631.8,307.6 638.3,309 644.8,309.6 651.2,310.8 657.7,309.6 664.1,308.9 670.6,308.9 677.1,307.1 683.5,304.7 690,302.5 696.4,299.9 702.9,297.1 709.4,294.2 715.8,292.9 722.3,289.8 728.7,288.1 735.2,286.3 741.7,283.8 748.1,281.6 754.6,279.4 761,276.5 767.5,274 774,270.6 780.4,268.2 786.9,266.4 793.3,262.8 799.8,260.8 806.3,258.7 812.7,256.8 819.2,255.6 825.6,252.9 832.1,251 838.6,249.3 845,247.1 851.5,245.2 857.9,244.2 864.4,242.5 870.9,242.8" fill="none" stroke="#e02838" stroke-width="2.0" stroke-linejoin="round"/><g fill="#9a0814"><circle cx="444.5" cy="420.1" r="2.7"/><circle cx="451" cy="413.9" r="2.7"/><circle cx="457.4" cy="414.3" r="2.7"/><circle cx="463.9" cy="413.5" r="2.7"/><circle cx="470.3" cy="409.2" r="2.7"/><circle cx="476.8" cy="397.3" r="2.7"/><circle cx="483.3" cy="377.8" r="2.7"/><circle cx="489.7" cy="352.2" r="2.7"/><circle cx="496.2" cy="326.4" r="2.7"/><circle cx="502.6" cy="304.2" r="2.7"/><circle cx="509.1" cy="283.8" r="2.7"/><circle cx="515.6" cy="270.5" r="2.7"/><circle cx="522" cy="262.7" r="2.7"/><circle cx="528.5" cy="256.9" r="2.7"/><circle cx="534.9" cy="255.6" r="2.7"/><circle cx="541.4" cy="258.4" r="2.7"/><circle cx="547.9" cy="262.3" r="2.7"/><circle cx="554.3" cy="265.8" r="2.7"/><circle cx="560.8" cy="269.8" r="2.7"/><circle cx="567.2" cy="273.3" r="2.7"/><circle cx="573.7" cy="277.9" r="2.7"/><circle cx="580.2" cy="282.7" r="2.7"/><circle cx="586.6" cy="288.4" r="2.7"/><circle cx="593.1" cy="292.3" r="2.7"/><circle cx="599.5" cy="294.5" r="2.7"/><circle cx="606" cy="298.6" r="2.7"/><circle cx="612.5" cy="301.1" r="2.7"/><circle cx="618.9" cy="304.2" r="2.7"/><circle cx="625.4" cy="306.1" r="2.7"/><circle cx="631.8" cy="307.6" r="2.7"/><circle cx="638.3" cy="309" r="2.7"/><circle cx="644.8" cy="309.6" r="2.7"/><circle cx="651.2" cy="310.8" r="2.7"/><circle cx="657.7" cy="309.6" r="2.7"/><circle cx="664.1" cy="308.9" r="2.7"/><circle cx="670.6" cy="308.9" r="2.7"/><circle cx="677.1" cy="307.1" r="2.7"/><circle cx="683.5" cy="304.7" r="2.7"/><circle cx="690" cy="302.5" r="2.7"/><circle cx="696.4" cy="299.9" r="2.7"/><circle cx="702.9" cy="297.1" r="2.7"/><circle cx="709.4" cy="294.2" r="2.7"/><circle cx="715.8" cy="292.9" r="2.7"/><circle cx="722.3" cy="289.8" r="2.7"/><circle cx="728.7" cy="288.1" r="2.7"/><circle cx="735.2" cy="286.3" r="2.7"/><circle cx="741.7" cy="283.8" r="2.7"/><circle cx="748.1" cy="281.6" r="2.7"/><circle cx="754.6" cy="279.4" r="2.7"/><circle cx="761" cy="276.5" r="2.7"/><circle cx="767.5" cy="274" r="2.7"/><circle cx="774" cy="270.6" r="2.7"/><circle cx="780.4" cy="268.2" r="2.7"/><circle cx="786.9" cy="266.4" r="2.7"/><circle cx="793.3" cy="262.8" r="2.7"/><circle cx="799.8" cy="260.8" r="2.7"/><circle cx="806.3" cy="258.7" r="2.7"/><circle cx="812.7" cy="256.8" r="2.7"/><circle cx="819.2" cy="255.6" r="2.7"/><circle cx="825.6" cy="252.9" r="2.7"/><circle cx="832.1" cy="251" r="2.7"/><circle cx="838.6" cy="249.3" r="2.7"/><circle cx="845" cy="247.1" r="2.7"/><circle cx="851.5" cy="245.2" r="2.7"/><circle cx="857.9" cy="244.2" r="2.7"/><circle cx="864.4" cy="242.5" r="2.7"/><circle cx="870.9" cy="242.8" r="2.7"/></g><polyline points="444.5,419.9 451,414.3 457.4,415.7 463.9,414.4 470.3,408.4 476.8,397.1 483.3,378.6 489.7,351.5 496.2,326.4 502.6,304 509.1,282.9 515.6,269.7 522,261.9 528.5,257.1 534.9,256 541.4,260.8 547.9,265.3 554.3,270.2 560.8,275.1 567.2,282.4 573.7,287.6 580.2,293.5 586.6,299.8 593.1,304.5 599.5,309.7 606,313.7 612.5,317.2 618.9,320.9 625.4,323.5 631.8,324.8 638.3,327.2 644.8,328.5 651.2,328.5 657.7,329 664.1,327.8 670.6,327.4 677.1,325.9 683.5,325.6 690,322.9 696.4,320.6 702.9,319.5 709.4,316 715.8,315.1 722.3,312.3 728.7,310.5 735.2,307.6 741.7,304.9 748.1,303.1 754.6,299 761,297.1 767.5,294.6 774,292.4 780.4,290.9 786.9,289.2 793.3,286.7 799.8,284.7 806.3,282.8 812.7,279.8 819.2,278.1 825.6,276.4 832.1,274.3 838.6,273.1 845,271.5 851.5,269 857.9,267.5 864.4,263.3 870.9,260.4" fill="none" stroke="#00c080" stroke-width="2.2" stroke-linejoin="round"/><g fill="#008a38"><circle cx="444.5" cy="419.9" r="2.7"/><circle cx="451" cy="414.3" r="2.7"/><circle cx="457.4" cy="415.7" r="2.7"/><circle cx="463.9" cy="414.4" r="2.7"/><circle cx="470.3" cy="408.4" r="2.7"/><circle cx="476.8" cy="397.1" r="2.7"/><circle cx="483.3" cy="378.6" r="2.7"/><circle cx="489.7" cy="351.5" r="2.7"/><circle cx="496.2" cy="326.4" r="2.7"/><circle cx="502.6" cy="304" r="2.7"/><circle cx="509.1" cy="282.9" r="2.7"/><circle cx="515.6" cy="269.7" r="2.7"/><circle cx="522" cy="261.9" r="2.7"/><circle cx="528.5" cy="257.1" r="2.7"/><circle cx="534.9" cy="256" r="2.7"/><circle cx="541.4" cy="260.8" r="2.7"/><circle cx="547.9" cy="265.3" r="2.7"/><circle cx="554.3" cy="270.2" r="2.7"/><circle cx="560.8" cy="275.1" r="2.7"/><circle cx="567.2" cy="282.4" r="2.7"/><circle cx="573.7" cy="287.6" r="2.7"/><circle cx="580.2" cy="293.5" r="2.7"/><circle cx="586.6" cy="299.8" r="2.7"/><circle cx="593.1" cy="304.5" r="2.7"/><circle cx="599.5" cy="309.7" r="2.7"/><circle cx="606" cy="313.7" r="2.7"/><circle cx="612.5" cy="317.2" r="2.7"/><circle cx="618.9" cy="320.9" r="2.7"/><circle cx="625.4" cy="323.5" r="2.7"/><circle cx="631.8" cy="324.8" r="2.7"/><circle cx="638.3" cy="327.2" r="2.7"/><circle cx="644.8" cy="328.5" r="2.7"/><circle cx="651.2" cy="328.5" r="2.7"/><circle cx="657.7" cy="329" r="2.7"/><circle cx="664.1" cy="327.8" r="2.7"/><circle cx="670.6" cy="327.4" r="2.7"/><circle cx="677.1" cy="325.9" r="2.7"/><circle cx="683.5" cy="325.6" r="2.7"/><circle cx="690" cy="322.9" r="2.7"/><circle cx="696.4" cy="320.6" r="2.7"/><circle cx="702.9" cy="319.5" r="2.7"/><circle cx="709.4" cy="316" r="2.7"/><circle cx="715.8" cy="315.1" r="2.7"/><circle cx="722.3" cy="312.3" r="2.7"/><circle cx="728.7" cy="310.5" r="2.7"/><circle cx="735.2" cy="307.6" r="2.7"/><circle cx="741.7" cy="304.9" r="2.7"/><circle cx="748.1" cy="303.1" r="2.7"/><circle cx="754.6" cy="299" r="2.7"/><circle cx="761" cy="297.1" r="2.7"/><circle cx="767.5" cy="294.6" r="2.7"/><circle cx="774" cy="292.4" r="2.7"/><circle cx="780.4" cy="290.9" r="2.7"/><circle cx="786.9" cy="289.2" r="2.7"/><circle cx="793.3" cy="286.7" r="2.7"/><circle cx="799.8" cy="284.7" r="2.7"/><circle cx="806.3" cy="282.8" r="2.7"/><circle cx="812.7" cy="279.8" r="2.7"/><circle cx="819.2" cy="278.1" r="2.7"/><circle cx="825.6" cy="276.4" r="2.7"/><circle cx="832.1" cy="274.3" r="2.7"/><circle cx="838.6" cy="273.1" r="2.7"/><circle cx="845" cy="271.5" r="2.7"/><circle cx="851.5" cy="269" r="2.7"/><circle cx="857.9" cy="267.5" r="2.7"/><circle cx="864.4" cy="263.3" r="2.7"/><circle cx="870.9" cy="260.4" r="2.7"/></g><polyline points="444.5,420.3 451,413.5 457.4,414.3 463.9,414.9 470.3,408 476.8,397.4 483.3,378.2 489.7,351.5 496.2,327.1 502.6,303.7 509.1,282.4 515.6,269.5 522,262.2 528.5,256.4 534.9,252.2 541.4,251.9 547.9,252.6 554.3,252.3 560.8,254 567.2,257.1 573.7,260.6 580.2,263.1 586.6,266.4 593.1,267.8 599.5,268.8 606,270 612.5,271 618.9,271.1 625.4,272.1 631.8,272.1 638.3,272.9 644.8,272.2 651.2,271.7 657.7,271 664.1,270.4 670.6,269 677.1,266.1 683.5,264.6 690,262.6 696.4,260.4 702.9,257.8 709.4,254.4 715.8,251.7 722.3,248.8 728.7,245.9 735.2,242.9 741.7,241.1 748.1,238.5 754.6,235.1 761,233.1 767.5,231.2 774,230.6 780.4,228.8 786.9,226.6 793.3,224.4 799.8,222 806.3,220.7 812.7,217.9 819.2,216.5 825.6,214.4 832.1,211.3 838.6,209.1 845,206.1 851.5,203.2 857.9,201.3 864.4,200.5 870.9,199.3" fill="none" stroke="#3048b0" stroke-width="2.0" stroke-linejoin="round"/><g fill="#2038a8"><circle cx="444.5" cy="420.3" r="2.7"/><circle cx="451" cy="413.5" r="2.7"/><circle cx="457.4" cy="414.3" r="2.7"/><circle cx="463.9" cy="414.9" r="2.7"/><circle cx="470.3" cy="408" r="2.7"/><circle cx="476.8" cy="397.4" r="2.7"/><circle cx="483.3" cy="378.2" r="2.7"/><circle cx="489.7" cy="351.5" r="2.7"/><circle cx="496.2" cy="327.1" r="2.7"/><circle cx="502.6" cy="303.7" r="2.7"/><circle cx="509.1" cy="282.4" r="2.7"/><circle cx="515.6" cy="269.5" r="2.7"/><circle cx="522" cy="262.2" r="2.7"/><circle cx="528.5" cy="256.4" r="2.7"/><circle cx="534.9" cy="252.2" r="2.7"/><circle cx="541.4" cy="251.9" r="2.7"/><circle cx="547.9" cy="252.6" r="2.7"/><circle cx="554.3" cy="252.3" r="2.7"/><circle cx="560.8" cy="254" r="2.7"/><circle cx="567.2" cy="257.1" r="2.7"/><circle cx="573.7" cy="260.6" r="2.7"/><circle cx="580.2" cy="263.1" r="2.7"/><circle cx="586.6" cy="266.4" r="2.7"/><circle cx="593.1" cy="267.8" r="2.7"/><circle cx="599.5" cy="268.8" r="2.7"/><circle cx="606" cy="270" r="2.7"/><circle cx="612.5" cy="271" r="2.7"/><circle cx="618.9" cy="271.1" r="2.7"/><circle cx="625.4" cy="272.1" r="2.7"/><circle cx="631.8" cy="272.1" r="2.7"/><circle cx="638.3" cy="272.9" r="2.7"/><circle cx="644.8" cy="272.2" r="2.7"/><circle cx="651.2" cy="271.7" r="2.7"/><circle cx="657.7" cy="271" r="2.7"/><circle cx="664.1" cy="270.4" r="2.7"/><circle cx="670.6" cy="269" r="2.7"/><circle cx="677.1" cy="266.1" r="2.7"/><circle cx="683.5" cy="264.6" r="2.7"/><circle cx="690" cy="262.6" r="2.7"/><circle cx="696.4" cy="260.4" r="2.7"/><circle cx="702.9" cy="257.8" r="2.7"/><circle cx="709.4" cy="254.4" r="2.7"/><circle cx="715.8" cy="251.7" r="2.7"/><circle cx="722.3" cy="248.8" r="2.7"/><circle cx="728.7" cy="245.9" r="2.7"/><circle cx="735.2" cy="242.9" r="2.7"/><circle cx="741.7" cy="241.1" r="2.7"/><circle cx="748.1" cy="238.5" r="2.7"/><circle cx="754.6" cy="235.1" r="2.7"/><circle cx="761" cy="233.1" r="2.7"/><circle cx="767.5" cy="231.2" r="2.7"/><circle cx="774" cy="230.6" r="2.7"/><circle cx="780.4" cy="228.8" r="2.7"/><circle cx="786.9" cy="226.6" r="2.7"/><circle cx="793.3" cy="224.4" r="2.7"/><circle cx="799.8" cy="222" r="2.7"/><circle cx="806.3" cy="220.7" r="2.7"/><circle cx="812.7" cy="217.9" r="2.7"/><circle cx="819.2" cy="216.5" r="2.7"/><circle cx="825.6" cy="214.4" r="2.7"/><circle cx="832.1" cy="211.3" r="2.7"/><circle cx="838.6" cy="209.1" r="2.7"/><circle cx="845" cy="206.1" r="2.7"/><circle cx="851.5" cy="203.2" r="2.7"/><circle cx="857.9" cy="201.3" r="2.7"/><circle cx="864.4" cy="200.5" r="2.7"/><circle cx="870.9" cy="199.3" r="2.7"/></g><polyline points="444.5,419.2 451,413.7 457.4,415.6 463.9,414.8 470.3,408.1 476.8,397.1 483.3,377.7 489.7,352.7 496.2,326.8 502.6,304.1 509.1,282.6 515.6,270 522,262 528.5,256.4 534.9,252.2 541.4,249 547.9,246.6 554.3,246.2 560.8,247.9 567.2,249.1 573.7,250.6 580.2,250.3 586.6,252.3 593.1,252.7 599.5,252.2 606,252.4 612.5,251.9 618.9,252.1 625.4,250.7 631.8,251 638.3,249.8 644.8,247.9 651.2,247.5 657.7,244.9 664.1,241.8 670.6,239.3 677.1,237.3 683.5,235 690,232 696.4,228.8 702.9,226.7 709.4,224.4 715.8,220.8 722.3,218.3 728.7,215 735.2,212.2 741.7,209.6 748.1,207.6 754.6,204.3 761,202.3 767.5,199.6 774,196.7 780.4,193.2 786.9,190.8 793.3,189.4 799.8,187.1 806.3,185.2 812.7,183.5 819.2,181.8 825.6,180.1 832.1,178.5 838.6,175.5 845,172.5 851.5,170.7 857.9,168.9 864.4,168.4 870.9,168.4" fill="none" stroke="#00b04c" stroke-width="2.2" stroke-linejoin="round"/><g fill="#00a844"><circle cx="444.5" cy="419.2" r="2.7"/><circle cx="451" cy="413.7" r="2.7"/><circle cx="457.4" cy="415.6" r="2.7"/><circle cx="463.9" cy="414.8" r="2.7"/><circle cx="470.3" cy="408.1" r="2.7"/><circle cx="476.8" cy="397.1" r="2.7"/><circle cx="483.3" cy="377.7" r="2.7"/><circle cx="489.7" cy="352.7" r="2.7"/><circle cx="496.2" cy="326.8" r="2.7"/><circle cx="502.6" cy="304.1" r="2.7"/><circle cx="509.1" cy="282.6" r="2.7"/><circle cx="515.6" cy="270" r="2.7"/><circle cx="522" cy="262" r="2.7"/><circle cx="528.5" cy="256.4" r="2.7"/><circle cx="534.9" cy="252.2" r="2.7"/><circle cx="541.4" cy="249" r="2.7"/><circle cx="547.9" cy="246.6" r="2.7"/><circle cx="554.3" cy="246.2" r="2.7"/><circle cx="560.8" cy="247.9" r="2.7"/><circle cx="567.2" cy="249.1" r="2.7"/><circle cx="573.7" cy="250.6" r="2.7"/><circle cx="580.2" cy="250.3" r="2.7"/><circle cx="586.6" cy="252.3" r="2.7"/><circle cx="593.1" cy="252.7" r="2.7"/><circle cx="599.5" cy="252.2" r="2.7"/><circle cx="606" cy="252.4" r="2.7"/><circle cx="612.5" cy="251.9" r="2.7"/><circle cx="618.9" cy="252.1" r="2.7"/><circle cx="625.4" cy="250.7" r="2.7"/><circle cx="631.8" cy="251" r="2.7"/><circle cx="638.3" cy="249.8" r="2.7"/><circle cx="644.8" cy="247.9" r="2.7"/><circle cx="651.2" cy="247.5" r="2.7"/><circle cx="657.7" cy="244.9" r="2.7"/><circle cx="664.1" cy="241.8" r="2.7"/><circle cx="670.6" cy="239.3" r="2.7"/><circle cx="677.1" cy="237.3" r="2.7"/><circle cx="683.5" cy="235" r="2.7"/><circle cx="690" cy="232" r="2.7"/><circle cx="696.4" cy="228.8" r="2.7"/><circle cx="702.9" cy="226.7" r="2.7"/><circle cx="709.4" cy="224.4" r="2.7"/><circle cx="715.8" cy="220.8" r="2.7"/><circle cx="722.3" cy="218.3" r="2.7"/><circle cx="728.7" cy="215" r="2.7"/><circle cx="735.2" cy="212.2" r="2.7"/><circle cx="741.7" cy="209.6" r="2.7"/><circle cx="748.1" cy="207.6" r="2.7"/><circle cx="754.6" cy="204.3" r="2.7"/><circle cx="761" cy="202.3" r="2.7"/><circle cx="767.5" cy="199.6" r="2.7"/><circle cx="774" cy="196.7" r="2.7"/><circle cx="780.4" cy="193.2" r="2.7"/><circle cx="786.9" cy="190.8" r="2.7"/><circle cx="793.3" cy="189.4" r="2.7"/><circle cx="799.8" cy="187.1" r="2.7"/><circle cx="806.3" cy="185.2" r="2.7"/><circle cx="812.7" cy="183.5" r="2.7"/><circle cx="819.2" cy="181.8" r="2.7"/><circle cx="825.6" cy="180.1" r="2.7"/><circle cx="832.1" cy="178.5" r="2.7"/><circle cx="838.6" cy="175.5" r="2.7"/><circle cx="845" cy="172.5" r="2.7"/><circle cx="851.5" cy="170.7" r="2.7"/><circle cx="857.9" cy="168.9" r="2.7"/><circle cx="864.4" cy="168.4" r="2.7"/><circle cx="870.9" cy="168.4" r="2.7"/></g><polyline points="444.5,419.2 451,413.6 457.4,415.3 463.9,415 470.3,408.6 476.8,397.2 483.3,378.1 489.7,351.5 496.2,326.4 502.6,303.3 509.1,283.8 515.6,269.8 522,261.7 528.5,257.8 534.9,252.4 541.4,247.5 547.9,244.2 554.3,242.9 560.8,239.8 567.2,238.7 573.7,236 580.2,234.4 586.6,233.1 593.1,230.8 599.5,226.2 606,222.5 612.5,217.9 618.9,214.2 625.4,210 631.8,204.6 638.3,200.5 644.8,196.2 651.2,191.8 657.7,187.4 664.1,183.5 670.6,179.4 677.1,176.4 683.5,172.1 690,168.8 696.4,165.1 702.9,161.9 709.4,158.8 715.8,155.7 722.3,152.9 728.7,151 735.2,149 741.7,146.7 748.1,144.8 754.6,143.6 761,141.8 767.5,140.6 774,138.3 780.4,136.7 786.9,136.6 793.3,136 799.8,135 806.3,133.8 812.7,133.1 819.2,131.1 825.6,131.6 832.1,130.2 838.6,129.4 845,127.5 851.5,126.6 857.9,127 864.4,126.9 870.9,126.1" fill="none" stroke="#ff3344" stroke-width="2.0" stroke-linejoin="round"/><g fill="#ff2233"><circle cx="444.5" cy="419.2" r="2.7"/><circle cx="451" cy="413.6" r="2.7"/><circle cx="457.4" cy="415.3" r="2.7"/><circle cx="463.9" cy="415" r="2.7"/><circle cx="470.3" cy="408.6" r="2.7"/><circle cx="476.8" cy="397.2" r="2.7"/><circle cx="483.3" cy="378.1" r="2.7"/><circle cx="489.7" cy="351.5" r="2.7"/><circle cx="496.2" cy="326.4" r="2.7"/><circle cx="502.6" cy="303.3" r="2.7"/><circle cx="509.1" cy="283.8" r="2.7"/><circle cx="515.6" cy="269.8" r="2.7"/><circle cx="522" cy="261.7" r="2.7"/><circle cx="528.5" cy="257.8" r="2.7"/><circle cx="534.9" cy="252.4" r="2.7"/><circle cx="541.4" cy="247.5" r="2.7"/><circle cx="547.9" cy="244.2" r="2.7"/><circle cx="554.3" cy="242.9" r="2.7"/><circle cx="560.8" cy="239.8" r="2.7"/><circle cx="567.2" cy="238.7" r="2.7"/><circle cx="573.7" cy="236" r="2.7"/><circle cx="580.2" cy="234.4" r="2.7"/><circle cx="586.6" cy="233.1" r="2.7"/><circle cx="593.1" cy="230.8" r="2.7"/><circle cx="599.5" cy="226.2" r="2.7"/><circle cx="606" cy="222.5" r="2.7"/><circle cx="612.5" cy="217.9" r="2.7"/><circle cx="618.9" cy="214.2" r="2.7"/><circle cx="625.4" cy="210" r="2.7"/><circle cx="631.8" cy="204.6" r="2.7"/><circle cx="638.3" cy="200.5" r="2.7"/><circle cx="644.8" cy="196.2" r="2.7"/><circle cx="651.2" cy="191.8" r="2.7"/><circle cx="657.7" cy="187.4" r="2.7"/><circle cx="664.1" cy="183.5" r="2.7"/><circle cx="670.6" cy="179.4" r="2.7"/><circle cx="677.1" cy="176.4" r="2.7"/><circle cx="683.5" cy="172.1" r="2.7"/><circle cx="690" cy="168.8" r="2.7"/><circle cx="696.4" cy="165.1" r="2.7"/><circle cx="702.9" cy="161.9" r="2.7"/><circle cx="709.4" cy="158.8" r="2.7"/><circle cx="715.8" cy="155.7" r="2.7"/><circle cx="722.3" cy="152.9" r="2.7"/><circle cx="728.7" cy="151" r="2.7"/><circle cx="735.2" cy="149" r="2.7"/><circle cx="741.7" cy="146.7" r="2.7"/><circle cx="748.1" cy="144.8" r="2.7"/><circle cx="754.6" cy="143.6" r="2.7"/><circle cx="761" cy="141.8" r="2.7"/><circle cx="767.5" cy="140.6" r="2.7"/><circle cx="774" cy="138.3" r="2.7"/><circle cx="780.4" cy="136.7" r="2.7"/><circle cx="786.9" cy="136.6" r="2.7"/><circle cx="793.3" cy="136" r="2.7"/><circle cx="799.8" cy="135" r="2.7"/><circle cx="806.3" cy="133.8" r="2.7"/><circle cx="812.7" cy="133.1" r="2.7"/><circle cx="819.2" cy="131.1" r="2.7"/><circle cx="825.6" cy="131.6" r="2.7"/><circle cx="832.1" cy="130.2" r="2.7"/><circle cx="838.6" cy="129.4" r="2.7"/><circle cx="845" cy="127.5" r="2.7"/><circle cx="851.5" cy="126.6" r="2.7"/><circle cx="857.9" cy="127" r="2.7"/><circle cx="864.4" cy="126.9" r="2.7"/><circle cx="870.9" cy="126.1" r="2.7"/></g><polyline points="444.5,419.5 451,413.6 457.4,415.7 463.9,414.8 470.3,409.1 476.8,397.7 483.3,378.6 489.7,351.9 496.2,326.5 502.6,304.2 509.1,283.6 515.6,270.2 522,262.7 528.5,256.8 534.9,251.5 541.4,246.4 547.9,241.9 554.3,238.9 560.8,236.4 567.2,233.1 573.7,231 580.2,229.8 586.6,227.4 593.1,224 599.5,220.5 606,216.2 612.5,211.5 618.9,205 625.4,199.6 631.8,195.5 638.3,190.5 644.8,186 651.2,182.2 657.7,177.2 664.1,174.2 670.6,171.5 677.1,168.6 683.5,164.8 690,161.9 696.4,158.5 702.9,156.1 709.4,154.2 715.8,152.9 722.3,151.1 728.7,148.9 735.2,147 741.7,144.1 748.1,142.8 754.6,141.1 761,139.2 767.5,139.1 774,137.5 780.4,136.6 786.9,134 793.3,133.5 799.8,130.7 806.3,129.3 812.7,128 819.2,127.9 825.6,126.3 832.1,124 838.6,123.3 845,121 851.5,119.6 857.9,117.7 864.4,117.3 870.9,116" fill="none" stroke="#222" stroke-width="2.0" stroke-linejoin="round"/><g fill="#000"><circle cx="444.5" cy="419.5" r="2.7"/><circle cx="451" cy="413.6" r="2.7"/><circle cx="457.4" cy="415.7" r="2.7"/><circle cx="463.9" cy="414.8" r="2.7"/><circle cx="470.3" cy="409.1" r="2.7"/><circle cx="476.8" cy="397.7" r="2.7"/><circle cx="483.3" cy="378.6" r="2.7"/><circle cx="489.7" cy="351.9" r="2.7"/><circle cx="496.2" cy="326.5" r="2.7"/><circle cx="502.6" cy="304.2" r="2.7"/><circle cx="509.1" cy="283.6" r="2.7"/><circle cx="515.6" cy="270.2" r="2.7"/><circle cx="522" cy="262.7" r="2.7"/><circle cx="528.5" cy="256.8" r="2.7"/><circle cx="534.9" cy="251.5" r="2.7"/><circle cx="541.4" cy="246.4" r="2.7"/><circle cx="547.9" cy="241.9" r="2.7"/><circle cx="554.3" cy="238.9" r="2.7"/><circle cx="560.8" cy="236.4" r="2.7"/><circle cx="567.2" cy="233.1" r="2.7"/><circle cx="573.7" cy="231" r="2.7"/><circle cx="580.2" cy="229.8" r="2.7"/><circle cx="586.6" cy="227.4" r="2.7"/><circle cx="593.1" cy="224" r="2.7"/><circle cx="599.5" cy="220.5" r="2.7"/><circle cx="606" cy="216.2" r="2.7"/><circle cx="612.5" cy="211.5" r="2.7"/><circle cx="618.9" cy="205" r="2.7"/><circle cx="625.4" cy="199.6" r="2.7"/><circle cx="631.8" cy="195.5" r="2.7"/><circle cx="638.3" cy="190.5" r="2.7"/><circle cx="644.8" cy="186" r="2.7"/><circle cx="651.2" cy="182.2" r="2.7"/><circle cx="657.7" cy="177.2" r="2.7"/><circle cx="664.1" cy="174.2" r="2.7"/><circle cx="670.6" cy="171.5" r="2.7"/><circle cx="677.1" cy="168.6" r="2.7"/><circle cx="683.5" cy="164.8" r="2.7"/><circle cx="690" cy="161.9" r="2.7"/><circle cx="696.4" cy="158.5" r="2.7"/><circle cx="702.9" cy="156.1" r="2.7"/><circle cx="709.4" cy="154.2" r="2.7"/><circle cx="715.8" cy="152.9" r="2.7"/><circle cx="722.3" cy="151.1" r="2.7"/><circle cx="728.7" cy="148.9" r="2.7"/><circle cx="735.2" cy="147" r="2.7"/><circle cx="741.7" cy="144.1" r="2.7"/><circle cx="748.1" cy="142.8" r="2.7"/><circle cx="754.6" cy="141.1" r="2.7"/><circle cx="761" cy="139.2" r="2.7"/><circle cx="767.5" cy="139.1" r="2.7"/><circle cx="774" cy="137.5" r="2.7"/><circle cx="780.4" cy="136.6" r="2.7"/><circle cx="786.9" cy="134" r="2.7"/><circle cx="793.3" cy="133.5" r="2.7"/><circle cx="799.8" cy="130.7" r="2.7"/><circle cx="806.3" cy="129.3" r="2.7"/><circle cx="812.7" cy="128" r="2.7"/><circle cx="819.2" cy="127.9" r="2.7"/><circle cx="825.6" cy="126.3" r="2.7"/><circle cx="832.1" cy="124" r="2.7"/><circle cx="838.6" cy="123.3" r="2.7"/><circle cx="845" cy="121" r="2.7"/><circle cx="851.5" cy="119.6" r="2.7"/><circle cx="857.9" cy="117.7" r="2.7"/><circle cx="864.4" cy="117.3" r="2.7"/><circle cx="870.9" cy="116" r="2.7"/></g><polyline points="444.5,419.9 451,413.8 457.4,415.1 463.9,413.6 470.3,409.2 476.8,396.8 483.3,378.6 489.7,352.2 496.2,326.6 502.6,304.3 509.1,282.6 515.6,270.1 522,262.4 528.5,257.7 534.9,254.2" fill="none" stroke="#10a070" stroke-width="2" stroke-linejoin="round"/><g fill="#14944c"><circle cx="444.5" cy="419.9" r="2.5"/><circle cx="451" cy="413.8" r="2.5"/><circle cx="457.4" cy="415.1" r="2.5"/><circle cx="463.9" cy="413.6" r="2.5"/><circle cx="470.3" cy="409.2" r="2.5"/><circle cx="476.8" cy="396.8" r="2.5"/><circle cx="483.3" cy="378.6" r="2.5"/><circle cx="489.7" cy="352.2" r="2.5"/><circle cx="496.2" cy="326.6" r="2.5"/><circle cx="502.6" cy="304.3" r="2.5"/><circle cx="509.1" cy="282.6" r="2.5"/><circle cx="515.6" cy="270.1" r="2.5"/><circle cx="522" cy="262.4" r="2.5"/><circle cx="528.5" cy="257.7" r="2.5"/><circle cx="534.9" cy="254.2" r="2.5"/></g><line x1="452.2" y1="84.6" x2="505.2" y2="84.6" stroke="#222" stroke-width="2.0"/><circle cx="478.7" cy="84.6" r="3" fill="#000"/><text x="516.7" y="92.6" font-family='"Liberation Serif", serif' font-size="24.5" fill="#111">0.0 V</text><line x1="452.2" y1="115" x2="505.2" y2="115" stroke="#ff3344" stroke-width="2.0"/><circle cx="478.7" cy="115" r="3" fill="#ff2233"/><text x="516.7" y="123" font-family='"Liberation Serif", serif' font-size="24.5" fill="#111">6.0 V</text><line x1="452.2" y1="145.4" x2="505.2" y2="145.4" stroke="#00b04c" stroke-width="2.2"/><circle cx="478.7" cy="145.4" r="3" fill="#00a844"/><text x="516.7" y="153.4" font-family='"Liberation Serif", serif' font-size="24.5" fill="#111">6.5 V</text><line x1="452.2" y1="176" x2="505.2" y2="176" stroke="#3048b0" stroke-width="2.0"/><circle cx="478.7" cy="176" r="3" fill="#2038a8"/><text x="516.7" y="184" font-family='"Liberation Serif", serif' font-size="24.5" fill="#111">7.0 V</text><line x1="574.6" y1="84.6" x2="627.6" y2="84.6" stroke="#e02838" stroke-width="2.0"/><circle cx="601.1" cy="84.6" r="3" fill="#9a0814"/><text x="639.1" y="92.6" font-family='"Liberation Serif", serif' font-size="24.5" fill="#111">7.3 V</text><line x1="574.6" y1="115" x2="627.6" y2="115" stroke="#00c080" stroke-width="2.2"/><circle cx="601.1" cy="115" r="3" fill="#008a38"/><text x="639.1" y="123" font-family='"Liberation Serif", serif' font-size="24.5" fill="#111">7.5 V</text><line x1="574.6" y1="145.4" x2="627.6" y2="145.4" stroke="#ff8a30" stroke-width="2.0"/><circle cx="601.1" cy="145.4" r="3" fill="#ff7a18"/><text x="639.1" y="153.4" font-family='"Liberation Serif", serif' font-size="24.5" fill="#111">8.0 V</text><text x="881" y="67" font-family='"Liberation Serif", serif' font-size="38.5" fill="#111">(c)</text><defs>
<linearGradient id="cBlue" x1="0" y1="0" x2="0" y2="1"><stop offset="0" stop-color="#aedcfc"/><stop offset="0.5" stop-color="#a0d2fb"/><stop offset="1" stop-color="#86c4f6"/></linearGradient>
<linearGradient id="cAzoV" x1="0" y1="0" x2="0" y2="1"><stop offset="0" stop-color="#fdeaa0"/><stop offset="0.6" stop-color="#fde79a"/><stop offset="1" stop-color="#fcdc6e"/></linearGradient>
<linearGradient id="cAzoH" x1="0" y1="0" x2="1" y2="0"><stop offset="0" stop-color="#fde9a0"/><stop offset="0.5" stop-color="#fde89a"/><stop offset="1" stop-color="#fde070"/></linearGradient>
<linearGradient id="cAzoR" x1="0" y1="0" x2="0" y2="1"><stop offset="0" stop-color="#fde276"/><stop offset="1" stop-color="#fdeaa6"/></linearGradient><linearGradient id="cAzoL" x1="0" y1="0" x2="0" y2="1"><stop offset="0" stop-color="#fde9a0"/><stop offset="0.6" stop-color="#fde796"/><stop offset="1" stop-color="#fcdc6c"/></linearGradient>
<linearGradient id="cBlueS" x1="0" y1="0" x2="0" y2="1"><stop offset="0" stop-color="#b0dcfc"/><stop offset="1" stop-color="#88c4f4"/></linearGradient>
<linearGradient id="cAzoS" x1="0" y1="0" x2="0" y2="1"><stop offset="0" stop-color="#fdea9e"/><stop offset="1" stop-color="#fcdc70"/></linearGradient>
<linearGradient id="cGrn" x1="0" y1="0" x2="0" y2="1"><stop offset="0" stop-color="#aee4a8"/><stop offset="1" stop-color="#7ed47a"/></linearGradient>
</defs><rect x="938.2" y="34.7" width="17.7" height="332.7" fill="url(#cAzoV)"/><rect x="955.9" y="34.7" width="189" height="332.7" fill="url(#cBlue)"/><rect x="1144.9" y="34.7" width="17.8" height="332.7" fill="url(#cAzoV)"/><rect x="1231" y="34.3" width="226" height="27.5" fill="url(#cAzoH)"/><rect x="1231" y="61.8" width="17.8" height="306.8" fill="url(#cAzoL)"/><rect x="1438" y="61.8" width="19" height="306.8" fill="url(#cAzoR)"/><rect x="1248.8" y="61.8" width="189.2" height="306.8" fill="url(#cBlue)"/><rect x="955.9" y="419.7" width="188.7" height="26.3" fill="url(#cBlueS)"/><rect x="938" y="446" width="224.6" height="26.7" fill="url(#cAzoS)"/><rect x="938" y="472.7" width="224.6" height="53.6" fill="url(#cGrn)"/><rect x="1231" y="421" width="18" height="26" fill="url(#cAzoS)"/><rect x="1438" y="421" width="18.3" height="26" fill="url(#cAzoS)"/><rect x="1231" y="447" width="225.3" height="26.4" fill="url(#cBlueS)"/><rect x="1231" y="473.4" width="225.3" height="53.1" fill="url(#cGrn)"/><g transform="translate(1050,214) scale(0.67,1)"><text x="0" y="0" text-anchor="middle" font-family='"Liberation Serif", serif' font-weight="bold" font-size="35.5" fill="#111">VO<tspan font-size="0.62em" dy="0.25em">2</tspan></text></g><g transform="translate(1343.5,220.5) scale(0.67,1)"><text x="0" y="0" text-anchor="middle" font-family='"Liberation Serif", serif' font-weight="bold" font-size="35.5" fill="#111">VO<tspan font-size="0.62em" dy="0.25em">2</tspan></text></g><g transform="translate(1342.7,57.6) scale(0.72,1)"><text x="0" y="0" text-anchor="middle" font-family='"Liberation Serif", serif' font-weight="bold" font-size="26" fill="#111">AZO</text></g><g transform="translate(954.5,201.85) rotate(-90) scale(1.2,1)"><text x="0" y="0" text-anchor="middle" font-family='"Liberation Serif", serif' font-weight="bold" font-size="20.5" fill="#111">AZO</text></g><g transform="translate(1160.5,205) rotate(-90) scale(1.2,1)"><text x="0" y="0" text-anchor="middle" font-family='"Liberation Serif", serif' font-weight="bold" font-size="20.5" fill="#111">AZO</text></g><g transform="translate(1050,440.5) scale(0.68,1)"><text x="0" y="0" text-anchor="middle" font-family='"Liberation Serif", serif' font-weight="bold" font-size="26" fill="#111">VO<tspan font-size="0.62em" dy="0.25em">2</tspan></text></g><g transform="translate(1049.8,468.8) scale(0.75,1)"><text x="0" y="0" text-anchor="middle" font-family='"Liberation Serif", serif' font-weight="bold" font-size="23" fill="#111">AZO</text></g><g transform="translate(1049.5,508.5) scale(0.72,1)"><text x="0" y="0" text-anchor="middle" font-family='"Liberation Serif", serif' font-weight="bold" font-size="25" fill="#111">c-0001 Al<tspan font-size="0.62em" dy="0.25em">2</tspan><tspan dy="-0.155em">O</tspan><tspan font-size="0.62em" dy="0.25em">3</tspan></text></g><g transform="translate(1239.2,415) scale(0.72,1)"><text x="0" y="0" text-anchor="middle" font-family='"Liberation Serif", serif' font-weight="bold" font-size="24" fill="#111">AZO</text></g><g transform="translate(1446.8,415) scale(0.72,1)"><text x="0" y="0" text-anchor="middle" font-family='"Liberation Serif", serif' font-weight="bold" font-size="24" fill="#111">AZO</text></g><g transform="translate(1343,471) scale(0.68,1)"><text x="0" y="0" text-anchor="middle" font-family='"Liberation Serif", serif' font-weight="bold" font-size="26" fill="#111">VO<tspan font-size="0.62em" dy="0.25em">2</tspan></text></g><g transform="translate(1341,512.5) scale(0.72,1)"><text x="0" y="0" text-anchor="middle" font-family='"Liberation Serif", serif' font-weight="bold" font-size="25" fill="#111">c-0001 Al<tspan font-size="0.62em" dy="0.25em">2</tspan><tspan dy="-0.155em">O</tspan><tspan font-size="0.62em" dy="0.25em">3</tspan></text></g><text x="16" y="562" font-family='"Liberation Serif", serif' font-size="38.5" fill="#111">(d)</text><defs><pattern id="mesh" patternUnits="userSpaceOnUse" width="44" height="44"><rect width="44" height="44" fill="#1e1e1e"/><g fill="#fff" stroke="#fff" stroke-width="0.5" stroke-linejoin="round"><polygon points="-6.1,-7.2 -6.3,-5.6 -5.4,-4.2 -3.4,-3.5 -2.9,-3.7 -3.5,-6.9 -3.8,-7.3"/><polygon points="-6.7,0.1 -5.8,-1.4 -3.8,-1.2 -4.7,0.9 -5.4,1.0"/><polygon points="-0.7,28.0 -0.9,29.8 -2.3,30.4 -5.0,28.3 -4.8,28.1 -2.8,27.4"/><polygon points="-1.9,5.3 -3.1,6.8 -5.7,5.4 -4.5,3.7 -3.5,3.7 -1.9,4.9"/><polygon points="-6.1,13.5 -6.2,12.4 -3.8,11.2 -2.5,13.0 -4.6,14.9"/><polygon points="-1.0,-0.9 -1.3,-1.1 -1.7,-0.9 -2.4,1.5 -0.4,3.4 1.2,1.9 1.2,1.5"/><polygon points="-3.0,16.8 -1.3,14.5 -0.3,14.6 0.4,17.3 -2.5,19.0 -3.1,18.6 -3.2,18.3"/><polygon points="-3.6,24.5 -5.7,26.3 -6.1,23.5 -4.1,21.4 -3.6,21.8 -3.5,22.2"/><polygon points="-6.3,38.4 -5.4,39.8 -3.4,40.5 -2.9,40.3 -3.5,37.1 -3.8,36.7 -6.1,36.8"/><polygon points="0.7,25.6 0.9,24.2 -1.6,22.4 -1.4,25.3 0.3,26.1"/><polygon points="-6.5,34.3 -7.3,33.3 -6.3,29.7 -6.2,29.6 -3.5,32.1 -4.2,34.0"/><polygon points="-3.8,42.8 -4.7,44.9 -5.4,45.0 -6.7,44.1 -5.8,42.6"/><polygon points="-3.5,47.7 -1.9,48.9 -1.9,49.3 -3.1,50.8 -5.7,49.4 -4.5,47.7"/><polygon points="-1.7,43.1 -2.4,45.5 -0.4,47.4 1.2,45.9 1.2,45.5 -1.0,43.1 -1.3,42.9"/><polygon points="35.1,-1.2 34.2,-0.9 34.1,-1.0 33.5,-2.9 35.6,-4.2 36.3,-2.4"/><polygon points="11.4,-6.0 12.2,-6.4 14.7,-4.9 14.6,-4.4 12.9,-1.8 11.6,-2.3 10.8,-4.7"/><polygon points="2.0,-5.1 1.9,-6.4 -1.5,-7.0 -0.9,-3.8 -0.5,-3.8"/><polygon points="28.7,0.3 28.7,0.4 31.8,-0.2 31.2,-2.7 29.9,-3.4 28.9,-0.8"/><polygon points="6.3,-2.9 8.6,-3.6 9.4,-1.3 8.0,-0.7 6.4,-1.0"/><polygon points="25.0,-5.4 24.9,-4.4 27.1,-2.0 28.5,-5.0 27.7,-6.2 26.5,-6.0"/><polygon points="15.3,1.8 15.6,1.8 18.6,0.0 16.1,-2.9 14.6,0.0"/><polygon points="22.1,-5.1 21.9,-3.8 20.3,-1.6 20.0,-1.7 17.7,-4.2 17.6,-4.7 19.7,-6.2"/><polygon points="23.8,-2.3 25.9,0.0 26.2,1.1 24.5,1.5 23.6,1.4 22.1,0.1"/><polygon points="41.1,-3.7 40.6,-3.5 38.6,-4.2 37.7,-5.6 37.9,-7.2 40.2,-7.3 40.5,-6.9"/><polygon points="3.3,-3.5 0.3,-2.2 2.8,0.5 3.9,-1.2 3.9,-2.7"/><polygon points="38.6,1.0 37.3,0.1 38.2,-1.4 40.2,-1.2 39.3,0.9"/><polygon points="26.4,32.5 27.6,30.5 29.3,30.8 29.8,33.2 28.5,35.1 27.0,35.1"/><polygon points="36.3,41.6 35.6,39.8 33.5,41.1 34.1,43.0 34.2,43.1 35.1,42.8"/><polygon points="1.7,21.9 3.1,21.0 2.3,19.2 1.5,18.9 -1.3,20.4 -1.0,20.8"/><polygon points="43.3,28.0 43.1,29.8 41.7,30.4 39.0,28.3 39.2,28.1 41.2,27.4"/><polygon points="42.1,5.3 40.9,6.8 38.3,5.4 39.5,3.7 40.5,3.7 42.1,4.9"/><polygon points="19.9,8.9 18.6,10.9 19.6,13.2 20.4,13.1 22.3,10.9 22.3,10.0"/><polygon points="22.0,25.0 22.6,26.0 25.0,26.6 24.8,24.5 22.8,23.1 22.3,23.5"/><polygon points="-0.4,7.2 -1.6,9.2 -1.5,10.1 -0.5,11.5 0.2,11.8 1.1,11.3 1.7,9.6"/><polygon points="10.8,39.3 11.4,38.0 12.2,37.6 14.7,39.1 14.6,39.6 12.9,42.2 11.6,41.7"/><polygon points="33.7,8.9 31.8,8.7 31.6,7.7 31.8,7.0 33.2,6.0 35.0,6.5"/><polygon points="26.1,6.6 29.1,6.8 29.1,5.6 27.7,3.2 27.7,3.1 26.1,3.8"/><polygon points="-1.5,37.0 1.9,37.6 2.0,38.9 -0.5,40.2 -0.9,40.2"/><polygon points="8.1,7.7 8.8,7.4 11.5,9.7 11.6,9.8 10.5,11.3 8.8,11.7 7.8,8.5"/><polygon points="22.2,30.8 23.2,28.5 25.0,28.8 25.8,29.3 24.5,30.7"/><polygon points="28.9,43.2 29.9,40.6 31.2,41.3 31.8,43.8 28.7,44.4 28.7,44.3"/><polygon points="37.8,12.4 40.2,11.2 41.5,13.0 39.4,14.9 37.9,13.5"/><polygon points="15.2,4.7 15.5,4.8 17.8,6.8 18.0,7.2 16.6,9.3 14.1,8.9 14.1,8.8 15.2,4.8"/><polygon points="5.5,1.3 7.3,2.0 7.6,4.1 7.3,4.8 6.7,5.0 4.0,2.9 4.1,2.6"/><polygon points="15.1,26.4 14.1,25.4 13.0,25.0 11.5,26.1 13.2,28.0 15.0,26.7"/><polygon points="13.8,11.5 12.7,13.1 14.4,15.9 15.6,16.1 17.4,14.3 16.2,12.0"/><polygon points="36.3,22.3 38.5,20.3 38.2,19.9 34.3,19.7 33.3,21.6"/><polygon points="14.5,22.5 15.5,20.3 15.1,18.9 14.1,18.9 12.3,20.0 12.9,22.4"/><polygon points="43.6,3.4 41.6,1.5 42.3,-0.9 42.7,-1.1 43.0,-0.9 45.2,1.5 45.2,1.9"/><polygon points="35.4,36.1 34.8,37.6 32.6,38.6 31.3,38.1 30.3,36.7 32.0,34.9 34.4,35.3"/><polygon points="6.3,41.1 8.6,40.4 9.4,42.7 8.0,43.3 6.4,43.0"/><polygon points="7.7,31.9 10.7,32.7 11.0,33.2 10.7,35.1 9.8,35.4 6.2,33.6 6.1,33.4"/><polygon points="20.7,33.4 20.9,35.5 23.0,36.7 24.9,35.8 23.7,33.3 21.6,33.0"/><polygon points="1.9,14.1 2.9,16.2 3.6,16.6 5.7,15.3 6.1,14.3 3.0,13.6"/><polygon points="27.1,42.0 28.5,39.0 27.7,37.8 26.5,38.0 25.0,38.6 24.9,39.6"/><polygon points="24.8,16.2 25.0,15.7 25.5,14.0 24.0,12.1 21.8,14.8 24.3,16.4"/><polygon points="1.1,5.9 3.1,7.6 5.0,7.1 5.6,6.3 2.7,4.2 1.2,5.5"/><polygon points="22.7,18.1 21.6,20.4 20.9,20.8 18.4,19.3 17.5,17.9 19.3,16.1 20.2,16.2"/><polygon points="5.5,38.8 4.9,38.2 4.6,37.1 5.1,35.1 9.0,37.0 7.9,38.4"/><polygon points="18.6,44.0 15.6,45.8 15.3,45.8 14.6,44.0 16.1,41.1"/><polygon points="18.1,33.5 17.7,33.4 13.9,33.6 13.4,35.6 16.3,37.2 18.2,35.6"/><polygon points="34.6,32.9 32.2,32.2 31.5,30.0 32.3,29.2 36.0,29.0"/><polygon points="30.2,27.0 29.6,28.0 28.1,27.6 27.5,26.9 27.6,25.1 29.7,23.6 30.6,23.6"/><polygon points="36.3,27.1 36.2,27.1 32.8,27.1 32.5,23.4 32.8,23.3 35.4,25.0 36.4,26.8"/><polygon points="26.8,18.1 30.2,20.6 30.9,20.8 31.1,20.7 31.5,19.0 31.5,17.9 31.1,17.6 27.4,17.5"/><polygon points="19.3,31.1 19.0,30.7 17.7,28.2 17.8,27.7 20.0,26.8 20.7,28.2 20.1,30.3"/><polygon points="3.2,25.7 5.9,26.3 6.7,25.4 5.4,23.3 4.7,23.0 3.6,23.9"/><polygon points="41.0,16.8 40.8,18.3 40.9,18.6 41.5,19.0 44.4,17.3 43.7,14.6 42.7,14.5"/><polygon points="34.9,12.3 33.9,11.6 32.0,11.2 31.8,11.9 32.4,14.8 32.9,15.3 34.9,13.5"/><polygon points="20.3,42.4 20.0,42.3 17.7,39.8 17.6,39.3 19.7,37.8 22.1,38.9 21.9,40.2"/><polygon points="40.4,24.5 38.3,26.3 37.9,23.5 39.9,21.4 40.4,21.8 40.5,22.2"/><polygon points="-1.7,34.7 -0.7,32.9 0.6,32.2 3.1,33.6 3.1,33.7 2.1,35.5 -1.3,35.1"/><polygon points="37.0,10.3 36.0,9.5 37.1,7.3 37.3,7.2 39.6,8.5 39.5,9.3"/><polygon points="36.9,2.9 35.7,1.7 34.5,1.7 35.0,3.7 36.0,4.4 36.2,4.3"/><polygon points="25.5,19.2 28.6,21.7 26.0,22.7 24.0,21.2 24.9,19.3"/><polygon points="20.9,6.5 22.5,4.1 23.9,4.3 23.8,6.9 23.1,7.7 20.9,6.8"/><polygon points="8.7,15.8 8.7,14.9 9.0,14.5 10.6,14.1 12.5,16.9 10.4,18.2 9.7,18.0"/><polygon points="2.7,28.0 5.3,28.4 5.3,30.1 4.2,31.9 1.8,30.1 2.1,28.4"/><polygon points="25.9,44.0 23.8,41.7 22.1,44.1 23.6,45.4 24.5,45.5 26.2,45.1"/><polygon points="9.8,1.2 11.4,0.6 12.3,1.0 13.4,2.6 13.4,2.6 10.0,3.8"/><polygon points="17.3,25.2 19.2,24.5 20.0,22.8 17.5,21.6 16.3,23.8"/><polygon points="25.2,9.5 25.3,10.3 26.9,11.4 29.0,10.6 29.4,10.0 28.8,8.9 26.2,8.9"/><polygon points="29.3,2.0 30.9,4.9 32.5,3.4 32.5,1.7 32.4,1.6"/><polygon points="9.7,24.4 8.7,24.7 7.5,22.3 9.6,21.1 10.2,21.1 10.6,23.2"/><polygon points="40.2,36.7 37.9,36.8 37.7,38.4 38.6,39.8 40.6,40.5 41.1,40.3 40.5,37.1"/><polygon points="5.5,20.2 4.8,18.7 6.8,17.1 8.2,19.4 6.1,20.4"/><polygon points="8.1,28.2 8.8,27.5 9.6,27.5 11.2,29.1 11.1,30.8 8.0,29.7"/><polygon points="3.9,41.3 3.3,40.5 0.3,41.8 2.8,44.5 3.9,42.8"/><polygon points="44.7,25.6 44.9,24.2 42.4,22.4 42.6,25.3 44.3,26.1"/><polygon points="16.8,3.0 19.4,5.3 21.0,2.5 20.0,1.4 19.8,1.4"/><polygon points="39.8,34.0 37.5,34.3 36.7,33.3 37.7,29.7 37.8,29.6 40.5,32.1"/><polygon points="38.6,45.0 37.3,44.1 38.2,42.6 40.2,42.8 39.3,44.9"/><polygon points="4.3,10.2 3.8,11.8 6.6,12.6 7.0,12.3 6.0,9.4"/><polygon points="36.3,15.5 34.1,16.9 34.4,18.1 38.4,18.5 38.0,16.7"/><polygon points="15.6,28.7 17.3,31.7 13.5,31.8 13.5,31.3 13.9,30.4"/><polygon points="10.3,5.6 13.5,4.2 12.4,8.5 9.8,6.0"/><polygon points="27.2,15.7 30.5,15.4 29.7,12.5 27.9,13.7"/><polygon points="39.5,47.7 38.3,49.4 40.9,50.8 42.1,49.3 42.1,48.9 40.5,47.7"/><polygon points="29.1,50.8 26.1,50.6 26.1,47.8 27.7,47.1 27.7,47.2 29.1,49.6"/><polygon points="5.5,45.3 4.1,46.6 4.0,46.9 6.7,49.0 7.3,48.8 7.6,48.1 7.3,46.0"/><polygon points="43.0,43.1 42.7,42.9 42.3,43.1 41.6,45.5 43.6,47.4 45.2,45.9 45.2,45.5"/><polygon points="36.9,46.9 36.2,48.3 36.0,48.4 35.0,47.7 34.5,45.7 35.7,45.7"/><polygon points="23.9,48.3 23.8,50.9 23.1,51.7 20.9,50.8 20.9,50.5 22.5,48.1"/><polygon points="9.8,45.2 10.0,47.8 13.4,46.6 13.4,46.6 12.3,45.0 11.4,44.6"/><polygon points="32.5,47.4 32.5,45.7 32.4,45.6 29.3,46.0 30.9,48.9"/><polygon points="21.0,46.5 19.4,49.3 16.8,47.0 19.8,45.4 20.0,45.4"/><polygon points="43.5,-3.8 43.1,-3.8 42.5,-7.0 45.9,-6.4 46.0,-5.1"/><polygon points="47.9,-1.2 47.9,-2.7 47.3,-3.5 44.3,-2.2 46.8,0.5"/><polygon points="43.0,20.8 42.7,20.4 45.5,18.9 46.3,19.2 47.1,21.0 45.7,21.9"/><polygon points="43.6,7.2 42.4,9.2 42.5,10.1 43.5,11.5 44.2,11.8 45.1,11.3 45.7,9.6"/><polygon points="46.0,38.9 45.9,37.6 42.5,37.0 43.1,40.2 43.5,40.2"/><polygon points="47.0,13.6 45.9,14.1 46.9,16.2 47.6,16.6 49.7,15.3 50.1,14.3"/><polygon points="45.1,5.9 47.1,7.6 49.0,7.1 49.6,6.3 46.7,4.2 45.2,5.5"/><polygon points="47.2,25.7 49.9,26.3 50.7,25.4 49.4,23.3 48.7,23.0 47.6,23.9"/><polygon points="42.3,34.7 43.3,32.9 44.6,32.2 47.1,33.6 47.1,33.7 46.1,35.5 42.7,35.1"/><polygon points="46.7,28.0 49.3,28.4 49.3,30.1 48.2,31.9 45.8,30.1 46.1,28.4"/><polygon points="47.9,41.3 47.9,42.8 46.8,44.5 44.3,41.8 47.3,40.5"/><polygon points="48.3,10.2 47.8,11.8 50.6,12.6 51.0,12.3 50.0,9.4"/></g></pattern><linearGradient id="dYel" x1="0" y1="0" x2="1" y2="1"><stop offset="0" stop-color="#fff6c4"/><stop offset="1" stop-color="#fbe9a4"/></linearGradient>
<linearGradient id="dChev" x1="0" y1="0" x2="0" y2="1"><stop offset="0" stop-color="#6cf43c"/><stop offset="0.6" stop-color="#66e43a"/><stop offset="0.72" stop-color="#2e9a18"/><stop offset="1" stop-color="#3a7420"/></linearGradient>
<linearGradient id="dBoxL" x1="0" y1="0" x2="1" y2="0"><stop offset="0" stop-color="#e39a2a"/><stop offset="1" stop-color="#f5c878"/></linearGradient>
<linearGradient id="dBoxR" x1="0" y1="0" x2="1" y2="0"><stop offset="0" stop-color="#fbe6b8"/><stop offset="0.7" stop-color="#f3cc80"/><stop offset="1" stop-color="#e8a840"/></linearGradient>
<radialGradient id="dShadow"><stop offset="0" stop-color="#c4c4c4"/><stop offset="0.6" stop-color="#d8d8d8"/><stop offset="1" stop-color="#fff" stop-opacity="0"/></radialGradient>
</defs><ellipse cx="82" cy="683.5" rx="56" ry="6.0" fill="url(#dShadow)"/><polygon points="22.5,642.6 90.5,619.5 155.1,654.3 87.1,677.4" fill="#6a9460" stroke="#2d3a2a" stroke-width="0.8"/><polygon points="22.5,640.4 90.5,617.3 155.1,652.1 87.1,675.2" fill="#9ac68e" stroke="#2d3a2a" stroke-width="0.8"/><polygon points="22.5,637.2 90.5,614.1 155.1,648.9 87.1,672" fill="#6a9460" stroke="#2d3a2a" stroke-width="0.8"/><polygon points="22.5,635 90.5,611.9 155.1,646.7 87.1,669.8" fill="#9ac68e" stroke="#2d3a2a" stroke-width="0.8"/><polygon points="22.5,631.8 90.5,608.7 155.1,643.5 87.1,666.6" fill="#6a9460" stroke="#2d3a2a" stroke-width="0.8"/><polygon points="22.5,629.6 90.5,606.5 155.1,641.3 87.1,664.4" fill="#9ac68e" stroke="#2d3a2a" stroke-width="0.8"/><polygon points="22.5,626.4 90.5,603.3 155.1,638.1 87.1,661.2" fill="#6a9460" stroke="#2d3a2a" stroke-width="0.8"/><polygon points="22.5,624.2 90.5,601.1 155.1,635.9 87.1,659" fill="#9ac68e" stroke="#2d3a2a" stroke-width="0.8"/><polygon points="22.5,621 90.5,597.9 155.1,632.7 87.1,655.8" fill="#6a9460" stroke="#2d3a2a" stroke-width="0.8"/><polygon points="22.5,618.8 90.5,595.7 155.1,630.5 87.1,653.6" fill="#9ac68e" stroke="#2d3a2a" stroke-width="0.8"/><polygon points="22.5,618.8 60,606 88,650 87.1,653.6" fill="#c8f0bc" stroke="#2d3a2a" stroke-width="0.7"/><path d="M38.8,590.2 C52,594 70,588 90.5,586.1 L156.5,621.5 L85.7,643.9 C62,630 46,612 38.8,590.2 Z" fill="#9db893" stroke="#333" stroke-width="1.1"/><path d="M40.5,593 C48,612 62,628 85.7,646.5 L156.5,624" fill="none" stroke="#555" stroke-width="0.8"/><g transform="translate(89,624.5) rotate(15)"><text x="0" y="0" text-anchor="middle" font-family='"Liberation Serif", serif' font-style="italic" font-size="15" fill="#222" stroke="#222" stroke-width="0.3">MICA</text></g><path d="M52.5,591 C46,581 44,568 51,556" fill="none" stroke="#f41010" stroke-width="2.6" stroke-linecap="round"/><polygon points="60.5,556.5 74.5,557.8 74.5,561.2 61.5,560" fill="#f41010"/><polygon points="169.8,627.6 211.6,627.6 219.2,637.6 211.6,647.6 169.8,647.6 181.3,637.6" fill="#999" opacity="0.55" filter="url(#soft)"/><polygon points="168.8,625.1 210.6,625.1 218.2,635.1 210.6,645.1 168.8,645.1 180.3,635.1" fill="url(#dChev)"/><polygon points="209.6,625.1 218.2,635.1 209.6,645.1 207.6,635.1" fill="#2f9a18" opacity="0.75"/><polygon points="168.8,625.1 180.3,635.1 182.8,634.6" fill="#2a8a18" opacity="0.7"/><polygon points="374,630.1 416.4,630.1 424,640.3 416.4,650.5 374,650.5 385.5,640.3" fill="#999" opacity="0.55" filter="url(#soft)"/><polygon points="373,627.6 415.4,627.6 423,637.8 415.4,648 373,648 384.5,637.8" fill="url(#dChev)"/><polygon points="414.4,627.6 423,637.8 414.4,648 412.4,637.8" fill="#2f9a18" opacity="0.75"/><polygon points="373,627.6 384.5,637.8 387,637.3" fill="#2a8a18" opacity="0.7"/><polygon points="175.5,766.2 216.9,766.2 224.5,776.4 216.9,786.5 175.5,786.5 187,776.4" fill="#999" opacity="0.55" filter="url(#soft)"/><polygon points="174.5,763.7 215.9,763.7 223.5,773.9 215.9,784 174.5,784 186,773.9" fill="url(#dChev)"/><polygon points="214.9,763.7 223.5,773.9 214.9,784 212.9,773.9" fill="#2f9a18" opacity="0.75"/><polygon points="174.5,763.7 186,773.9 188.5,773.4" fill="#2a8a18" opacity="0.7"/><polygon points="374,766 416.4,766 424,776 416.4,786 374,786 385.5,776" fill="#999" opacity="0.55" filter="url(#soft)"/><polygon points="373,763.5 415.4,763.5 423,773.5 415.4,783.5 373,783.5 384.5,773.5" fill="url(#dChev)"/><polygon points="414.4,763.5 423,773.5 414.4,783.5 412.4,773.5" fill="#2f9a18" opacity="0.75"/><polygon points="373,763.5 384.5,773.5 387,773" fill="#2a8a18" opacity="0.7"/><ellipse cx="288.6" cy="691" rx="54" ry="6.0" fill="url(#dShadow)"/><polygon points="228.1,649.3 296.7,627.2 360.9,662.4 292.3,683.6" fill="#6a9460" stroke="#2d3a2a" stroke-width="0.8"/><polygon points="228.1,647.1 296.7,625 360.9,660.2 292.3,681.4" fill="#9ac68e" stroke="#2d3a2a" stroke-width="0.8"/><polygon points="228.1,643.7 296.7,621.6 360.9,656.8 292.3,678" fill="#6a9460" stroke="#2d3a2a" stroke-width="0.8"/><polygon points="228.1,641.5 296.7,619.4 360.9,654.6 292.3,675.8" fill="#9ac68e" stroke="#2d3a2a" stroke-width="0.8"/><polygon points="228.1,638.1 296.7,616 360.9,651.2 292.3,672.4" fill="#6a9460" stroke="#2d3a2a" stroke-width="0.8"/><polygon points="228.1,635.9 296.7,613.8 360.9,649 292.3,670.2" fill="#9ac68e" stroke="#2d3a2a" stroke-width="0.8"/><polygon points="228.1,632.5 296.7,610.4 360.9,645.6 292.3,666.8" fill="#6a9460" stroke="#2d3a2a" stroke-width="0.8"/><polygon points="228.1,630.3 296.7,608.2 360.9,643.4 292.3,664.6" fill="#9ac68e" stroke="#2d3a2a" stroke-width="0.8"/><polygon points="228.1,626.8 296.7,604.7 360.9,639.9 292.3,661.1" fill="#1e1a10"/><polygon points="228.1,624.3 296.7,602.2 360.9,637.4 292.3,658.6" fill="url(#dYel)" stroke="#222" stroke-width="1.3"/><g transform="translate(295,636) rotate(9)"><text x="0" y="0" text-anchor="middle" font-family='"Liberation Serif", serif' font-style="italic" font-weight="bold" font-size="17" fill="#222">VO<tspan font-size="11" dy="3">2</tspan></text></g><ellipse cx="494" cy="690" rx="55" ry="6.0" fill="url(#dShadow)"/><polygon points="433.7,648.2 501.1,627 565.9,661.3 498.6,682.5" fill="#6a9460" stroke="#2d3a2a" stroke-width="0.8"/><polygon points="433.7,646 501.1,624.8 565.9,659.1 498.6,680.3" fill="#9ac68e" stroke="#2d3a2a" stroke-width="0.8"/><polygon points="433.7,642.6 501.1,621.4 565.9,655.7 498.6,676.9" fill="#6a9460" stroke="#2d3a2a" stroke-width="0.8"/><polygon points="433.7,640.4 501.1,619.2 565.9,653.5 498.6,674.7" fill="#9ac68e" stroke="#2d3a2a" stroke-width="0.8"/><polygon points="433.7,637 501.1,615.8 565.9,650.1 498.6,671.3" fill="#6a9460" stroke="#2d3a2a" stroke-width="0.8"/><polygon points="433.7,634.8 501.1,613.6 565.9,647.9 498.6,669.1" fill="#9ac68e" stroke="#2d3a2a" stroke-width="0.8"/><polygon points="433.7,631.4 501.1,610.2 565.9,644.5 498.6,665.7" fill="#6a9460" stroke="#2d3a2a" stroke-width="0.8"/><polygon points="433.7,629.2 501.1,608 565.9,642.3 498.6,663.5" fill="#9ac68e" stroke="#2d3a2a" stroke-width="0.8"/><polygon points="433.7,624.2 501.1,603 565.9,637.3 498.6,658.5" fill="#1e1a10"/><polygon points="433.7,621.9 501.1,600.7 565.9,635 498.6,656.2" fill="#8a6a32" stroke="#222" stroke-width="0.7"/><polygon points="433.7,618.7 501.1,597.5 565.9,631.8 498.6,653" fill="url(#mesh)" stroke="#222" stroke-width="1"/><ellipse cx="91.5" cy="829.5" rx="56" ry="6.0" fill="url(#dShadow)"/><polygon points="33.6,790.6 102.5,768.5 165.4,802.5 96.5,824.6" fill="#6a9460" stroke="#2d3a2a" stroke-width="0.8"/><polygon points="33.6,788.4 102.5,766.3 165.4,800.3 96.5,822.4" fill="#9ac68e" stroke="#2d3a2a" stroke-width="0.8"/><polygon points="33.6,784.7 102.5,762.6 165.4,796.6 96.5,818.7" fill="#6a9460" stroke="#2d3a2a" stroke-width="0.8"/><polygon points="33.6,782.5 102.5,760.4 165.4,794.4 96.5,816.5" fill="#9ac68e" stroke="#2d3a2a" stroke-width="0.8"/><polygon points="33.6,778.8 102.5,756.7 165.4,790.7 96.5,812.8" fill="#6a9460" stroke="#2d3a2a" stroke-width="0.8"/><polygon points="33.6,776.6 102.5,754.5 165.4,788.5 96.5,810.6" fill="#9ac68e" stroke="#2d3a2a" stroke-width="0.8"/><polygon points="33.6,772.9 102.5,750.8 165.4,784.8 96.5,806.9" fill="#6a9460" stroke="#2d3a2a" stroke-width="0.8"/><polygon points="33.6,770.7 102.5,748.6 165.4,782.6 96.5,804.7" fill="#9ac68e" stroke="#2d3a2a" stroke-width="0.8"/><polygon points="33.6,767 102.5,744.9 165.4,778.9 96.5,801" fill="#6a9460" stroke="#2d3a2a" stroke-width="0.8"/><polygon points="33.6,764.8 102.5,742.7 165.4,776.7 96.5,798.8" fill="#9ac68e" stroke="#2d3a2a" stroke-width="0.8"/><polygon points="33.6,764.8 58,757 94.8,797 96.5,798.8" fill="#c8f0bc" stroke="#2d3a2a" stroke-width="0.7"/><path d="M56.6,738.5 C70,736 88,732 105,729.4 C125,742 148,760 164.5,775 L94.8,796.3 C70,784 58,762 56.6,738.5 Z" fill="#5a4a2a" transform="translate(0,2)"/><path d="M56.6,738.5 C70,736 88,732 105,729.4 C125,742 148,760 164.5,775 L94.8,796.3 C70,784 58,762 56.6,738.5 Z" fill="url(#mesh)" stroke="#222" stroke-width="1"/><path d="M68.5,731.7 C60,720 58,706 68,698.5" fill="none" stroke="#f41010" stroke-width="2.8" stroke-linecap="round"/><polygon points="66,694 78.5,688.5 80.5,701.5" fill="#f41010"/><path d="M66,699 C72,695 80,694 86,697" fill="none" stroke="#f41010" stroke-width="2.8"/><polygon points="78.5,689.5 91.4,701.9 77.5,704" fill="#f41010"/><ellipse cx="288" cy="818.5" rx="56" ry="6.0" fill="url(#dShadow)"/><polygon points="228.5,775.6 296.5,753.5 361.7,788.1 293.7,809.7" fill="#1e1a10"/><polygon points="228.5,773.1 296.5,751 361.7,785.6 293.7,807.2" fill="#8a6a32" stroke="#222" stroke-width="0.6"/><polygon points="228.5,770.1 296.5,748 361.7,782.6 293.7,804.2" fill="url(#mesh)" stroke="#222" stroke-width="1"/><ellipse cx="485" cy="827" rx="54" ry="6.0" fill="url(#dShadow)"/><polygon points="438.5,762.7 503.6,795.2 503.6,817.7 438.5,785.2" fill="url(#dBoxL)" stroke="#3a2a10" stroke-width="1"/><polygon points="503.6,795.2 571.8,773.8 571.8,796.3 503.6,817.7" fill="url(#dBoxR)" stroke="#3a2a10" stroke-width="1"/><polygon points="438.5,762.7 506.7,741.3 571.8,773.8 503.6,795.2" fill="#f6dca8" stroke="#3a2a10" stroke-width="0.8"/><path d="M439.3,751.6 C462,744 486,736 509.1,728.6 C522,733 536,738 546.4,739.7 C544,752 540,762 536,766.7 C526,774 514,781 504.4,786.5 C482,776 460,764 439.3,751.6 Z" fill="#2a2410" transform="translate(0,5.5)"/><path d="M439.3,751.6 C462,744 486,736 509.1,728.6 C522,733 536,738 546.4,739.7 C544,752 540,762 536,766.7 C526,774 514,781 504.4,786.5 C482,776 460,764 439.3,751.6 Z" fill="#8a6a32" transform="translate(0,2.6)"/><path d="M439.3,751.6 C462,744 486,736 509.1,728.6 C522,733 536,738 546.4,739.7 C544,752 540,762 536,766.7 C526,774 514,781 504.4,786.5 C482,776 460,764 439.3,751.6 Z" fill="url(#mesh)" stroke="#222" stroke-width="0.9"/><g transform="translate(470.5,794) rotate(27)"><text x="0" y="0" text-anchor="middle" font-family='"Liberation Serif", serif' font-style="italic" font-weight="bold" font-size="15.5" fill="#1a1208">Other</text></g><g transform="translate(538.5,803.5) rotate(-18)"><text x="0" y="0" text-anchor="middle" font-family='"Liberation Serif", serif' font-weight="bold" font-size="14.5" fill="#1a1208">Substrates</text></g><path d="M537,728.6 C541,716 551,710 557,711 C563,712 567,719 567.5,728" fill="none" stroke="#f41010" stroke-width="2.8" stroke-linecap="round"/><polygon points="562,730 575,733 566.3,745.2" fill="#f41010"/><text x="579" y="562" font-family='"Liberation Serif", serif' font-size="38.5" fill="#111">(e)</text><defs>
<linearGradient id="eSub" x1="0" y1="0" x2="0" y2="1"><stop offset="0" stop-color="#958c86"/><stop offset="0.35" stop-color="#b4aca2"/><stop offset="0.75" stop-color="#e6dcc6"/><stop offset="1" stop-color="#f4ecd8"/></linearGradient>
<linearGradient id="eSubH" x1="0" y1="0" x2="1" y2="0"><stop offset="0" stop-color="#fff" stop-opacity="0.35"/><stop offset="0.3" stop-color="#fff" stop-opacity="0"/><stop offset="1" stop-color="#fff" stop-opacity="0"/></linearGradient>
<linearGradient id="eCyl" x1="0" y1="0" x2="0" y2="1"><stop offset="0" stop-color="#0b5e34"/><stop offset="0.35" stop-color="#1f8a50"/><stop offset="0.55" stop-color="#2c9a5e"/><stop offset="1" stop-color="#0a5a30"/></linearGradient>
<radialGradient id="eEll" cx="0.5" cy="0.42" r="0.58"><stop offset="0" stop-color="#b0dcf2" stop-opacity="0.5"/><stop offset="0.75" stop-color="#7ab8dc" stop-opacity="0.6"/><stop offset="1" stop-color="#5b94c0" stop-opacity="0.75"/></radialGradient>
<linearGradient id="eElec" x1="0" y1="0" x2="0" y2="1"><stop offset="0" stop-color="#f2fbfe"/><stop offset="0.55" stop-color="#e2f2f8"/><stop offset="0.8" stop-color="#c8d8e4"/><stop offset="1" stop-color="#a8b8c8"/></linearGradient>
<linearGradient id="eGL" x1="0" y1="0" x2="1" y2="0"><stop offset="0" stop-color="#13862c"/><stop offset="0.3" stop-color="#64a868"/><stop offset="0.62" stop-color="#f4faf4"/><stop offset="1" stop-color="#fff"/></linearGradient>
<linearGradient id="eGR" x1="0" y1="0" x2="1" y2="0"><stop offset="0" stop-color="#92dc8e"/><stop offset="0.4" stop-color="#caeec6"/><stop offset="0.75" stop-color="#fafdfa"/><stop offset="1" stop-color="#fff"/></linearGradient>
<linearGradient id="eBox" x1="0" y1="0" x2="1" y2="0"><stop offset="0" stop-color="#f8cc2a"/><stop offset="0.3" stop-color="#fadc3c"/><stop offset="0.52" stop-color="#fcee60"/><stop offset="0.62" stop-color="#fdf8b0"/><stop offset="0.72" stop-color="#fff"/><stop offset="1" stop-color="#fff"/></linearGradient>
<linearGradient id="eBat" x1="0" y1="0" x2="0" y2="1"><stop offset="0" stop-color="#fff"/><stop offset="0.45" stop-color="#f8f8e0"/><stop offset="0.46" stop-color="#e8e818"/><stop offset="1" stop-color="#d8d800"/></linearGradient>
</defs><path d="M651,579.8 L835.5,579.8 Q846,579.8 849,589 L869,668 Q872,681 860,681 L622,681 Q610,681 613,668 L635,590 Q638,579.8 651,579.8 Z" fill="#a59f99" transform="translate(0,3.8)"/><path d="M651,579.8 L835.5,579.8 Q846,579.8 849,589 L869,668 Q872,681 860,681 L622,681 Q610,681 613,668 L635,590 Q638,579.8 651,579.8 Z" fill="url(#eSub)"/><path d="M651,579.8 L835.5,579.8 Q846,579.8 849,589 L869,668 Q872,681 860,681 L622,681 Q610,681 613,668 L635,590 Q638,579.8 651,579.8 Z" fill="url(#eSubH)"/><g fill="#fcc808"><rect x="699.9" y="582.6" width="7.5" height="54.7"/><rect x="659.4" y="630.7" width="48" height="6.6"/><rect x="659.4" y="630.7" width="7.5" height="18"/><rect x="650.9" y="647.6" width="22.6" height="26.4" rx="3"/><rect x="731.9" y="622.2" width="8.5" height="27"/><rect x="723.4" y="648.6" width="23.6" height="26.4" rx="3"/><rect x="769.6" y="583.6" width="6.6" height="53.7"/><rect x="769.6" y="630.7" width="45.2" height="6.6"/><rect x="807.3" y="630.7" width="7.5" height="18"/><rect x="799.7" y="647.6" width="22.6" height="26.4" rx="3"/></g><text x="662.2" y="664.5" text-anchor="middle" font-family='"Liberation Sans", sans-serif' font-weight="bold" font-size="9.5" fill="#e09a10">S</text><text x="735.2" y="665.5" text-anchor="middle" font-family='"Liberation Sans", sans-serif' font-weight="bold" font-size="9.5" fill="#e09a10">G</text><text x="811" y="664.5" text-anchor="middle" font-family='"Liberation Sans", sans-serif' font-weight="bold" font-size="9.5" fill="#e09a10">D</text><ellipse cx="739.4" cy="595.8" rx="64.5" ry="36.3" fill="url(#eEll)"/><rect x="696.1" y="589.2" width="83.9" height="27.3" rx="4" fill="url(#eCyl)"/><rect x="699.9" y="582.6" width="7.5" height="54.7" fill="#fcc808"/><rect x="769.6" y="583.6" width="6.6" height="53.7" fill="#fcc808"/><text x="738" y="610.5" text-anchor="middle" font-family='"Liberation Sans", sans-serif' font-weight="bold" font-size="12.5" fill="#f0fff4">VO<tspan font-size="8.5" dy="3">2</tspan></text><path d="M702,626 Q739,636 790,620" fill="none" stroke="#fff" stroke-width="1.8" opacity="0.7"/><ellipse cx="739.4" cy="595.8" rx="64.5" ry="36.3" fill="#cfe8f6" opacity="0.12"/><text x="742.2" y="577" text-anchor="middle" font-family='"Liberation Sans", sans-serif' font-weight="bold" font-size="11.5" fill="#f0203a">Solid electrolyte</text><g stroke="#222" stroke-width="1.1" fill="#fff"><line x1="660.3" y1="674" x2="660.3" y2="685.5"/><circle cx="660.3" cy="688.1" r="2.5"/><line x1="734.7" y1="675" x2="734.7" y2="685.5"/><circle cx="734.7" cy="688.1" r="2.5"/><line x1="810.8" y1="674" x2="810.8" y2="691"/><line x1="803.5" y1="691" x2="817.8" y2="691" stroke-width="1.4"/><line x1="806.3" y1="694.3" x2="815" y2="694.3" stroke-width="1.3"/><line x1="808.3" y1="697.4" x2="813" y2="697.4" stroke-width="1.2"/></g><text x="654" y="705" font-family='"Liberation Sans", sans-serif' font-style="italic" font-weight="bold" font-size="11" fill="#333">V<tspan font-size="7" font-style="normal" dy="1.5">SD</tspan></text><text x="731" y="706" font-family='"Liberation Sans", sans-serif' font-style="italic" font-weight="bold" font-size="11" fill="#333">V<tspan font-size="7" font-style="normal" dy="1.5">G</tspan></text><polygon points="899.4,607 963.7,607 963.7,716 899.4,703" fill="url(#eGL)"/><polygon points="963.7,607 1027,607 1027,703 963.7,718" fill="url(#eGR)"/><polygon points="985,686 1027,703 963.7,718" fill="#d0d4d8" opacity="0.5"/><rect x="899.4" y="550" width="127.6" height="57" fill="url(#eElec)"/><line x1="903" y1="559.8" x2="909.5" y2="559.8" stroke="#f08830" stroke-width="1.8"/><line x1="917" y1="559.8" x2="923.5" y2="559.8" stroke="#f08830" stroke-width="1.8"/><line x1="931" y1="559.8" x2="937.5" y2="559.8" stroke="#f08830" stroke-width="1.8"/><line x1="945" y1="559.8" x2="951.5" y2="559.8" stroke="#f08830" stroke-width="1.8"/><line x1="959" y1="559.8" x2="965.5" y2="559.8" stroke="#f08830" stroke-width="1.8"/><line x1="973" y1="559.8" x2="979.5" y2="559.8" stroke="#f08830" stroke-width="1.8"/><line x1="987" y1="559.8" x2="993.5" y2="559.8" stroke="#f08830" stroke-width="1.8"/><line x1="1001" y1="559.8" x2="1007.5" y2="559.8" stroke="#f08830" stroke-width="1.8"/><line x1="1015" y1="559.8" x2="1021.5" y2="559.8" stroke="#f08830" stroke-width="1.8"/><g transform="translate(968,583) rotate(-3)"><text x="0" y="0" font-family='"Liberation Sans", sans-serif' font-weight="bold" font-size="8.5" fill="#f03048" transform="scale(0.82,1)">Solid electrolyte</text></g><g fill="#2a8ad8"><circle cx="902.5" cy="593" r="2"/><circle cx="917" cy="594.5" r="2"/><circle cx="927" cy="599.5" r="2"/><circle cx="940" cy="595" r="2"/><circle cx="955" cy="596.5" r="2"/><circle cx="975" cy="596.5" r="2"/><circle cx="986" cy="600" r="2"/><circle cx="995" cy="600" r="2"/><circle cx="1010" cy="601" r="2"/><circle cx="1022.5" cy="596" r="2"/><circle cx="912.5" cy="601" r="2"/><circle cx="966" cy="606" r="2"/><circle cx="1001.5" cy="606" r="2"/><circle cx="913" cy="614" r="2"/><circle cx="912" cy="629.5" r="2"/><circle cx="926.5" cy="636.5" r="2"/><circle cx="911" cy="650" r="2"/><circle cx="917" cy="658" r="2"/><circle cx="939" cy="622" r="2"/><circle cx="951" cy="619" r="2"/><circle cx="950.5" cy="647" r="2"/><circle cx="978" cy="620" r="2"/><circle cx="977" cy="636" r="2"/><circle cx="983" cy="657" r="2"/><circle cx="994" cy="624" r="2"/><circle cx="1007" cy="624" r="2"/><circle cx="1012" cy="641" r="2"/><circle cx="1016" cy="653" r="2"/><circle cx="1010" cy="677" r="2"/><circle cx="996" cy="636" r="2"/><circle cx="1016" cy="668" r="2"/></g><g stroke="#f05868" stroke-width="1.3"><line x1="899.5" y1="604" x2="904.5" y2="604"/><line x1="902" y1="601.5" x2="902" y2="606.5"/><line x1="915.0" y1="606" x2="920.0" y2="606"/><line x1="917.5" y1="603.5" x2="917.5" y2="608.5"/><line x1="937.5" y1="607" x2="942.5" y2="607"/><line x1="940" y1="604.5" x2="940" y2="609.5"/><line x1="951.5" y1="604.5" x2="956.5" y2="604.5"/><line x1="954" y1="602.0" x2="954" y2="607.0"/><line x1="971.5" y1="605" x2="976.5" y2="605"/><line x1="974" y1="602.5" x2="974" y2="607.5"/><line x1="978.5" y1="607" x2="983.5" y2="607"/><line x1="981" y1="604.5" x2="981" y2="609.5"/><line x1="1007.5" y1="606" x2="1012.5" y2="606"/><line x1="1010" y1="603.5" x2="1010" y2="608.5"/><line x1="1014.5" y1="604.5" x2="1019.5" y2="604.5"/><line x1="1017" y1="602.0" x2="1017" y2="607.0"/></g><polygon points="925,605 933,605 933,611 937,611 929,620 921,611 925,611" fill="#80c8f0" opacity="0.9"/><polygon points="992,605 1000,605 1000,611 1004,611 996,620 988,611 992,611" fill="#80c8f0" opacity="0.9"/><text x="921.5" y="685" font-family='"Liberation Sans", sans-serif' font-size="11.5" fill="#2a88c8">H<tspan font-size="7" dy="-4">+</tspan></text><text x="981.5" y="694.5" font-family='"Liberation Sans", sans-serif' font-size="14.5" fill="#3d5a3d" textLength="21" lengthAdjust="spacingAndGlyphs">VO<tspan font-size="9.5" dy="2.5">2</tspan></text><polyline points="1029.5,553 1049.5,553 1049.5,561" fill="none" stroke="#5a7a50" stroke-width="1.2"/><polyline points="1029.5,606 1049.5,606 1049.5,597" fill="none" stroke="#5a7a50" stroke-width="1.2"/><circle cx="1027.5" cy="553" r="2" fill="#fff" stroke="#5a7a50" stroke-width="1.1"/><circle cx="1027.5" cy="606" r="2" fill="#fff" stroke="#5a7a50" stroke-width="1.1"/><rect x="1047" y="560.5" width="5" height="3" fill="#333"/><rect x="1043" y="563.5" width="13.5" height="33.5" rx="1" fill="url(#eBat)" stroke="#888" stroke-width="0.6"/><path d="M1049.8,567.5 v7 M1046.3,571 h7" stroke="#e8e020" stroke-width="1.6"/><path d="M1046.5,590 h7" stroke="#fff" stroke-width="1.6"/><rect x="641.3" y="755" width="378.2" height="58" fill="url(#eBox)" stroke="#a8c4dc" stroke-width="1.1"/><text x="834" y="735.6" text-anchor="middle" font-family='"Liberation Sans", sans-serif' font-weight="bold" font-size="13" fill="#2a8ad0" textLength="142" lengthAdjust="spacingAndGlyphs">Positive gating voltage</text><line x1="718.8" y1="746.3" x2="951" y2="746.3" stroke="#2a8ad0" stroke-width="1.4"/><polygon points="956,746.3 948,743 948,749.6" fill="#2a8ad0"/><line x1="723" y1="821.2" x2="955.7" y2="821.2" stroke="#f03040" stroke-width="1.4"/><polygon points="718.5,821.2 726.5,817.9 726.5,824.5" fill="#f03040"/><text x="842.6" y="840.5" text-anchor="middle" font-family='"Liberation Sans", sans-serif' font-weight="bold" font-size="13.5" fill="#f02838" textLength="148" lengthAdjust="spacingAndGlyphs">Negative gating voltage</text><text x="646.7" y="788" font-family='"Liberation Sans", sans-serif' font-weight="bold" font-size="15.7" fill="#222">M-VO<tspan font-size="0.68em" dy="0.1em">2</tspan></text><text x="646.7" y="804.7" font-family='"Liberation Sans", sans-serif' font-weight="bold" font-size="11.4" fill="#333">(Insulator)</text><text x="762.4" y="790.8" font-family='"Liberation Sans", sans-serif' font-weight="bold" font-size="16" fill="#222" textLength="89.6" lengthAdjust="spacingAndGlyphs">Metallic VO<tspan font-size="0.68em" dy="0.1em">2</tspan></text><text x="912" y="790.8" font-family='"Liberation Sans", sans-serif' font-weight="bold" font-size="16" fill="#222" textLength="96" lengthAdjust="spacingAndGlyphs">Insulator VO<tspan font-size="0.68em" dy="0.1em">2</tspan></text><line x1="714.4" y1="786" x2="750.2" y2="786" stroke="#1818d0" stroke-width="1.5"/><polygon points="709.4,786 716.4,782.6 716.4,789.4" fill="#1818d0"/><polygon points="755.2,786 748.2,782.6 748.2,789.4" fill="#1818d0"/><text x="727.4" y="778.6" font-family='"Liberation Sans", sans-serif' font-size="11.5" fill="#3030d0">H<tspan font-size="7.5" dy="-4.5">+</tspan></text><line x1="867" y1="786" x2="902.3" y2="786" stroke="#1818d0" stroke-width="1.5"/><polygon points="862,786 869,782.6 869,789.4" fill="#1818d0"/><polygon points="907.3,786 900.3,782.6 900.3,789.4" fill="#1818d0"/><text x="880.9" y="778.6" font-family='"Liberation Sans", sans-serif' font-size="11.5" fill="#3030d0">H<tspan font-size="7.5" dy="-4.5">+</tspan></text><text x="1077" y="566" font-family='"Liberation Serif", serif' font-size="38.5" fill="#111">(f)</text><line x1="1074.6" y1="587" x2="1074.6" y2="864.5" stroke="#4a6fb0" stroke-width="2.4"/><rect x="1130.6" y="586.2" width="303.8000000000002" height="256.19999999999993" fill="none" stroke="#777" stroke-width="1.6"/><line x1="1125.6" y1="842.4" x2="1130.6" y2="842.4" stroke="#666" stroke-width="1.3"/><line x1="1127.6" y1="824.1" x2="1130.6" y2="824.1" stroke="#666" stroke-width="1.3"/><line x1="1125.6" y1="805.8" x2="1130.6" y2="805.8" stroke="#666" stroke-width="1.3"/><line x1="1127.6" y1="787.5" x2="1130.6" y2="787.5" stroke="#666" stroke-width="1.3"/><line x1="1125.6" y1="769.2" x2="1130.6" y2="769.2" stroke="#666" stroke-width="1.3"/><line x1="1127.6" y1="750.9" x2="1130.6" y2="750.9" stroke="#666" stroke-width="1.3"/><line x1="1125.6" y1="732.6" x2="1130.6" y2="732.6" stroke="#666" stroke-width="1.3"/><line x1="1127.6" y1="714.3" x2="1130.6" y2="714.3" stroke="#666" stroke-width="1.3"/><line x1="1125.6" y1="696" x2="1130.6" y2="696" stroke="#666" stroke-width="1.3"/><line x1="1127.6" y1="677.7" x2="1130.6" y2="677.7" stroke="#666" stroke-width="1.3"/><line x1="1125.6" y1="659.4" x2="1130.6" y2="659.4" stroke="#666" stroke-width="1.3"/><line x1="1127.6" y1="641.1" x2="1130.6" y2="641.1" stroke="#666" stroke-width="1.3"/><line x1="1125.6" y1="622.8" x2="1130.6" y2="622.8" stroke="#666" stroke-width="1.3"/><line x1="1127.6" y1="604.5" x2="1130.6" y2="604.5" stroke="#666" stroke-width="1.3"/><line x1="1125.6" y1="586.2" x2="1130.6" y2="586.2" stroke="#666" stroke-width="1.3"/><text x="1121.5" y="847.6" text-anchor="end" font-family='"Liberation Sans", sans-serif' font-size="14" fill="#555">20</text><text x="1121.5" y="811" text-anchor="end" font-family='"Liberation Sans", sans-serif' font-size="14" fill="#555">30</text><text x="1121.5" y="774.4" text-anchor="end" font-family='"Liberation Sans", sans-serif' font-size="14" fill="#555">40</text><text x="1121.5" y="737.8" text-anchor="end" font-family='"Liberation Sans", sans-serif' font-size="14" fill="#555">50</text><text x="1121.5" y="701.2" text-anchor="end" font-family='"Liberation Sans", sans-serif' font-size="14" fill="#555">60</text><text x="1121.5" y="664.6" text-anchor="end" font-family='"Liberation Sans", sans-serif' font-size="14" fill="#555">70</text><text x="1121.5" y="628" text-anchor="end" font-family='"Liberation Sans", sans-serif' font-size="14" fill="#555">80</text><text x="1121.5" y="591.4" text-anchor="end" font-family='"Liberation Sans", sans-serif' font-size="14" fill="#555">90</text><line x1="1130.7" y1="842.4" x2="1130.7" y2="845.4" stroke="#666" stroke-width="1.3"/><line x1="1164.4" y1="842.4" x2="1164.4" y2="847.4" stroke="#666" stroke-width="1.3"/><line x1="1198.2" y1="842.4" x2="1198.2" y2="845.4" stroke="#666" stroke-width="1.3"/><line x1="1231.9" y1="842.4" x2="1231.9" y2="847.4" stroke="#666" stroke-width="1.3"/><line x1="1265.7" y1="842.4" x2="1265.7" y2="845.4" stroke="#666" stroke-width="1.3"/><line x1="1299.4" y1="842.4" x2="1299.4" y2="847.4" stroke="#666" stroke-width="1.3"/><line x1="1333.2" y1="842.4" x2="1333.2" y2="845.4" stroke="#666" stroke-width="1.3"/><line x1="1366.9" y1="842.4" x2="1366.9" y2="847.4" stroke="#666" stroke-width="1.3"/><line x1="1400.7" y1="842.4" x2="1400.7" y2="845.4" stroke="#666" stroke-width="1.3"/><line x1="1434.4" y1="842.4" x2="1434.4" y2="847.4" stroke="#666" stroke-width="1.3"/><text x="1164.4" y="863" text-anchor="middle" font-family='"Liberation Sans", sans-serif' font-size="14" fill="#555">500</text><text x="1231.9" y="863" text-anchor="middle" font-family='"Liberation Sans", sans-serif' font-size="14" fill="#555">1000</text><text x="1299.4" y="863" text-anchor="middle" font-family='"Liberation Sans", sans-serif' font-size="14" fill="#555">1500</text><text x="1366.9" y="863" text-anchor="middle" font-family='"Liberation Sans", sans-serif' font-size="14" fill="#555">2000</text><text x="1434.4" y="863" text-anchor="middle" font-family='"Liberation Sans", sans-serif' font-size="14" fill="#555">2500</text><text transform="translate(1097,707) rotate(-90)" text-anchor="middle" font-family='"Liberation Sans", sans-serif' font-size="15" fill="#555">Transmittance (%)</text><line x1="1184.7" y1="588.2" x2="1184.7" y2="842.4" stroke="#aaa" stroke-width="1" stroke-dasharray="1.5,2.5"/><line x1="1366.9" y1="588.2" x2="1366.9" y2="842.4" stroke="#aaa" stroke-width="1" stroke-dasharray="1.5,2.5"/><polyline points="1142.3,842.4 1143.1,841.2 1143.9,840.1 1144.7,838.7 1145.5,836.9 1146.3,834.8 1147.1,832.5 1147.9,830 1148.7,827.2 1149.6,824.1 1150.4,820.5 1151.2,816.3 1152,811.7 1152.8,806.7 1153.6,801.2 1154.4,795.4 1155.2,789.4 1156,783.3 1156.8,777.5 1157.7,771.8 1158.5,766 1159.3,760.7 1160.1,756 1160.9,751.8 1161.7,747.8 1162.5,744 1163.3,740.5 1164.1,737.3 1164.9,734.4 1165.8,731.8 1166.6,729.4 1167.4,727.1 1168.2,725 1169,723.1 1169.8,721.3 1170.6,719.6 1171.4,718 1172.2,716.6 1173,715.3 1173.9,714.1 1174.7,713.1 1175.5,712.1 1176.3,711.3 1177.1,710.5 1177.9,709.8 1178.7,709.1 1179.5,708.5 1180.3,707.9 1181.1,707.4 1182,706.9 1182.8,706.4 1183.6,706.1 1184.4,705.7 1185.2,705.5 1186,705.3 1186.8,705.2 1187.6,705.1 1188.4,705.1 1189.2,705.2 1190.1,705.3 1190.9,705.4 1191.7,705.6 1192.5,705.9 1193.3,706.2 1194.1,706.5 1194.9,706.9 1195.7,707.3 1196.5,707.8 1197.3,708.3 1198.2,708.8 1199,709.4 1199.8,709.9 1200.6,710.5 1201.4,711.2 1202.2,711.8 1203,712.5 1203.8,713.2 1204.6,713.8 1205.4,714.5 1206.2,715.2 1207.1,715.9 1207.9,716.6 1208.7,717.2 1209.5,717.9 1210.3,718.6 1211.1,719.2 1211.9,719.8 1212.7,720.4 1213.5,721 1214.4,721.6 1215.2,722.2 1216,722.7 1216.8,723.2 1217.6,723.7 1218.4,724.3 1219.2,724.7 1220,725.2 1220.8,725.7 1221.6,726.2 1222.5,726.7 1223.3,727.1 1224.1,727.6 1224.9,728.1 1225.7,728.5 1226.5,729 1227.3,729.5 1228.1,729.9 1228.9,730.4 1229.7,730.9 1230.6,731.4 1231.4,731.9 1232.2,732.4 1233,732.9 1233.8,733.5 1234.6,734 1235.4,734.5 1236.2,735 1237,735.6 1237.8,736.1 1238.7,736.7 1239.5,737.2 1240.3,737.8 1241.1,738.3 1241.9,738.9 1242.7,739.4 1243.5,740 1244.3,740.5 1245.1,741.1 1245.9,741.6 1246.8,742.2 1247.6,742.7 1248.4,743.3 1249.2,743.9 1250,744.4 1250.8,745 1251.6,745.5 1252.4,746.1 1253.2,746.7 1254,747.2 1254.9,747.8 1255.7,748.3 1256.5,748.9 1257.3,749.5 1258.1,750 1258.9,750.6 1259.7,751.2 1260.5,751.7 1261.3,752.3 1262.1,752.9 1263,753.4 1263.8,754 1264.6,754.5 1265.4,755.1 1266.2,755.7 1267,756.2 1267.8,756.8 1268.6,757.4 1269.4,758 1270.2,758.6 1271.1,759.2 1271.9,759.7 1272.7,760.3 1273.5,760.9 1274.3,761.5 1275.1,762.1 1275.9,762.6 1276.7,763.2 1277.5,763.7 1278.3,764.3 1279.2,764.8 1280,765.3 1280.8,765.8 1281.6,766.3 1282.4,766.7 1283.2,767.1 1284,767.5 1284.8,767.9 1285.6,768.3 1286.4,768.7 1287.2,769 1288.1,769.3 1288.9,769.6 1289.7,769.9 1290.5,770.2 1291.3,770.5 1292.1,770.7 1292.9,771 1293.7,771.2 1294.5,771.5 1295.4,771.7 1296.2,771.9 1297,772.2 1297.8,772.4 1298.6,772.6 1299.4,772.9 1300.2,773.1 1301,773.3 1301.8,773.5 1302.6,773.7 1303.5,773.9 1304.3,774.1 1305.1,774.3 1305.9,774.5 1306.7,774.7 1307.5,774.8 1308.3,775 1309.1,775.2 1309.9,775.4 1310.7,775.5 1311.6,775.7 1312.4,775.9 1313.2,776.1 1314,776.3 1314.8,776.4 1315.6,776.6 1316.4,776.8 1317.2,777 1318,777.2 1318.8,777.4 1319.7,777.6 1320.5,777.8 1321.3,778 1322.1,778.2 1322.9,778.4 1323.7,778.6 1324.5,778.9 1325.3,779.2 1326.1,779.6 1326.9,780.1 1327.8,782.9 1328.6,783.6 1329.4,783.9 1330.2,784.2 1331,784.5 1331.8,784.7 1332.6,784.9 1333.4,785.1 1334.2,785.2 1335,785.4 1335.9,785.6 1336.7,785.7 1337.5,785.9 1338.3,786 1339.1,786.2 1339.9,786.3 1340.7,786.5 1341.5,786.6 1342.3,786.8 1343.1,786.9 1344,787 1344.8,787.2 1345.6,787.3 1346.4,787.5 1347.2,787.6 1348,787.7 1348.8,787.9 1349.6,788 1350.4,788.2 1351.2,788.3 1352.1,788.4 1352.9,788.6 1353.7,788.7 1354.5,788.8 1355.3,788.9 1356.1,789.1 1356.9,789.2 1357.7,789.3 1358.5,789.4 1359.3,789.5 1360.2,789.6 1361,789.7 1361.8,789.8 1362.6,789.9 1363.4,790 1364.2,790.1 1365,790.2 1365.8,790.3 1366.6,790.4 1367.4,790.5 1368.2,790.6 1369.1,790.7 1369.9,790.7 1370.7,790.8 1371.5,790.9 1372.3,791 1373.1,791 1373.9,791.1 1374.7,791.2 1375.5,791.3 1376.4,791.3 1377.2,791.4 1378,791.5 1378.8,791.5 1379.6,791.6 1380.4,791.7 1381.2,791.7 1382,791.8 1382.8,791.9 1383.6,792 1384.5,792 1385.3,792.1 1386.1,792.1 1386.9,792.2 1387.7,792.3 1388.5,792.3 1389.3,792.4 1390.1,792.5 1390.9,792.5 1391.7,792.6 1392.6,792.7 1393.4,792.7 1394.2,792.8 1395,792.9 1395.8,792.9 1396.6,793 1397.4,793.1 1398.2,793.1 1399,793.2 1399.8,793.3 1400.7,793.4 1401.5,793.4 1402.3,793.5 1403.1,793.6 1403.9,793.6 1404.7,793.7 1405.5,793.8 1406.3,793.8 1407.1,793.9 1407.9,794 1408.8,794.1 1409.6,794.1 1410.4,794.2 1411.2,794.3 1412,794.3 1412.8,794.4 1413.6,794.5 1414.4,794.6 1415.2,794.6 1416,794.7 1416.9,794.8 1417.7,794.8 1418.5,794.9 1419.3,795 1420.1,795 1420.9,795.1 1421.7,795.2 1422.5,795.3 1423.3,795.3 1424.1,795.4 1425,795.5 1425.8,795.5 1426.6,795.6 1427.4,795.7 1428.2,795.7 1429,795.8 1429.8,795.9 1430.6,796 1431.4,796 1432.2,796.1 1433.1,796.2 1433.9,796.2" fill="none" stroke="#ff22ff" stroke-width="1.8" stroke-linejoin="round"/><polyline points="1360.2,789.7 1361,789.3 1361.8,790.1 1362.6,789.5 1363.4,790.9 1364.2,790.4 1365,790.3 1365.8,789.3 1366.6,789.7 1367.4,790.1 1368.2,791.6 1369.1,790.9 1369.9,790.3 1370.7,791.4 1371.5,790.8 1372.3,791.1 1373.1,792.1 1373.9,790 1374.7,790.5 1375.5,791.9 1376.4,791.1 1377.2,791.9 1378,791.7 1378.8,791.5 1379.6,792.1 1380.4,792 1381.2,792 1382,791.4 1382.8,792.4 1383.6,792.6 1384.5,791.5 1385.3,792.5 1386.1,791.2 1386.9,792.1 1387.7,791.8 1388.5,792.7 1389.3,791.7 1390.1,793.4 1390.9,793.3 1391.7,793.5 1392.6,792.3 1393.4,792.3 1394.2,793.5 1395,793.1 1395.8,792.2 1396.6,792.8 1397.4,794 1398.2,793.7 1399,794 1399.8,794.1 1400.7,793.6 1401.5,794.4 1402.3,792.6 1403.1,793.7 1403.9,793.6 1404.7,793.4 1405.5,793.2 1406.3,793.1 1407.1,794.2 1407.9,794.4 1408.8,794.3 1409.6,795.2 1410.4,794.4 1411.2,793.8 1412,793.3 1412.8,793.8 1413.6,794.1 1414.4,794.3 1415.2,795.7 1416,795.1 1416.9,795.1 1417.7,794.5 1418.5,795.8 1419.3,795.2 1420.1,795 1420.9,794.5 1421.7,794.5 1422.5,795 1423.3,796.1 1424.1,794.8 1425,794.6 1425.8,795.4 1426.6,795.9 1427.4,795.7 1428.2,796.5 1429,795.3 1429.8,794.8 1430.6,795.9 1431.4,795.6 1432.2,795.4 1433.1,796.8 1433.9,795.3" fill="none" stroke="#ff22ff" stroke-width="1.8"/><polyline points="1147.4,842.4 1148.2,838.9 1149,835.5 1149.8,832 1150.6,828.5 1151.4,824.7 1152.2,820.8 1153.1,816.5 1153.9,812.1 1154.7,807.4 1155.5,802.4 1156.3,797.1 1157.1,791.4 1157.9,785.5 1158.7,779 1159.5,772.7 1160.4,767.6 1161.2,763.4 1162,759.5 1162.8,755.6 1163.6,751.6 1164.4,746.9 1165.2,741.6 1166,736.8 1166.8,733.1 1167.6,730.2 1168.5,727.7 1169.3,725.4 1170.1,723.3 1170.9,721.4 1171.7,719.6 1172.5,718 1173.3,716.5 1174.1,715.1 1174.9,713.9 1175.7,712.7 1176.6,711.7 1177.4,710.7 1178.2,709.8 1179,709.1 1179.8,708.4 1180.6,707.7 1181.4,707.2 1182.2,706.7 1183,706.4 1183.8,706.2 1184.7,706.1 1185.5,706.1 1186.3,706.3 1187.1,706.7 1187.9,707.2 1188.7,707.8 1189.5,708.6 1190.3,709.3 1191.1,710.1 1191.9,710.8 1192.8,711.4 1193.6,712.1 1194.4,712.7 1195.2,713.3 1196,713.9 1196.8,714.5 1197.6,715.2 1198.4,715.8 1199.2,716.4 1200,717 1200.9,717.7 1201.7,718.3 1202.5,718.9 1203.3,719.5 1204.1,720.2 1204.9,720.8 1205.7,721.4 1206.5,722 1207.3,722.6 1208.1,723.1 1209,723.7 1209.8,724.3 1210.6,724.8 1211.4,725.3 1212.2,725.8 1213,726.3 1213.8,726.8 1214.6,727.2 1215.4,727.6 1216.2,728 1217.1,728.4 1217.9,728.7 1218.7,728.9 1219.5,729.2 1220.3,729.4 1221.1,729.6 1221.9,729.8 1222.7,730 1223.5,730.2 1224.3,730.4 1225.2,730.6 1226,730.8 1226.8,731 1227.6,731.2 1228.4,731.5 1229.2,731.8 1230,732.1 1230.8,732.4 1231.6,732.8 1232.4,733.3 1233.2,733.7 1234.1,734.2 1234.9,734.7 1235.7,735.3 1236.5,735.8 1237.3,736.4 1238.1,737 1238.9,737.6 1239.7,738.2 1240.5,738.8 1241.4,739.5 1242.2,740.1 1243,740.8 1243.8,741.4 1244.6,742.1 1245.4,742.7 1246.2,743.4 1247,744 1247.8,744.7 1248.6,745.3 1249.5,745.9 1250.3,746.6 1251.1,747.2 1251.9,747.9 1252.7,748.5 1253.5,749.2 1254.3,749.8 1255.1,750.5 1255.9,751.2 1256.7,751.9 1257.6,752.5 1258.4,753.2 1259.2,753.9 1260,754.5 1260.8,755.2 1261.6,755.8 1262.4,756.5 1263.2,757.1 1264,757.7 1264.8,758.3 1265.7,759 1266.5,759.6 1267.3,760.1 1268.1,760.7 1268.9,761.3 1269.7,761.9 1270.5,762.5 1271.3,763.1 1272.1,763.7 1272.9,764.3 1273.8,764.8 1274.6,765.4 1275.4,766 1276.2,766.5 1277,767.1 1277.8,767.6 1278.6,768.1 1279.4,768.6 1280.2,769.1 1281,769.6 1281.9,770.1 1282.7,770.5 1283.5,770.9 1284.3,771.4 1285.1,771.8 1285.9,772.2 1286.7,772.6 1287.5,772.9 1288.3,773.3 1289.1,773.6 1290,773.9 1290.8,774.2 1291.6,774.5 1292.4,774.8 1293.2,775.1 1294,775.4 1294.8,775.7 1295.6,776 1296.4,776.2 1297.2,776.5 1298.1,776.8 1298.9,777.1 1299.7,777.3 1300.5,777.6 1301.3,777.9 1302.1,778.2 1302.9,778.4 1303.7,778.7 1304.5,779 1305.3,779.3 1306.2,779.5 1307,779.8 1307.8,780.1 1308.6,780.3 1309.4,780.6 1310.2,780.9 1311,781.1 1311.8,781.4 1312.6,781.7 1313.4,781.9 1314.2,782.2 1315.1,782.4 1315.9,782.7 1316.7,782.9 1317.5,783.2 1318.3,783.4 1319.1,783.7 1319.9,783.9 1320.7,784.2 1321.5,784.4 1322.4,784.6 1323.2,784.9 1324,785.1 1324.8,785.3 1325.6,785.5 1326.4,785.7 1327.2,785.9 1328,786.1 1328.8,786.3 1329.6,786.4 1330.5,786.6 1331.3,786.7 1332.1,786.8 1332.9,787 1333.7,787.1 1334.5,787.2 1335.3,787.2 1336.1,787.3 1336.9,787.4 1337.7,787.4 1338.6,787.5 1339.4,787.5 1340.2,787.6 1341,787.6 1341.8,787.7 1342.6,787.7 1343.4,787.8 1344.2,787.9 1345,788 1345.8,788.1 1346.7,788.2 1347.5,788.4 1348.3,788.5 1349.1,788.6 1349.9,788.8 1350.7,788.9 1351.5,789 1352.3,789.2 1353.1,789.3 1353.9,789.5 1354.8,789.6 1355.6,789.7 1356.4,789.9 1357.2,790.1 1358,790.2 1358.8,790.4 1359.6,790.6 1360.4,790.7 1361.2,790.9 1362,791.1 1362.9,791.3 1363.7,791.5 1364.5,791.8 1365.3,792 1366.1,792.3 1366.9,792.6 1367.7,793 1368.5,793.4 1369.3,794 1370.1,794.6 1371,795.3 1371.8,796.1 1372.6,797 1373.4,798 1374.2,799 1375,799.9" fill="none" stroke="#2a2af0" stroke-width="1.9" stroke-linejoin="round"/><polyline points="1137.9,842.3 1138.8,840.6 1139.6,838.7 1140.4,836.4 1141.2,833.9 1142,831.5 1142.8,829.6 1143.6,826.7 1144.4,825 1145.2,822.7 1146,820.9 1146.9,817.9 1147.7,816.8 1148.5,813.8 1149.3,812.3 1150.1,810.4 1150.9,808.1 1151.7,805.5 1152.5,801 1153.3,796.5 1154.1,792 1155,787.4 1155.8,782.6 1156.6,776 1157.4,771.1 1158.2,765.6 1159,761.9 1159.8,757.3 1160.6,752.7 1161.4,748.9 1162.2,743.5 1163.1,739.2 1163.9,735.3 1164.7,732 1165.5,728.3 1166.3,725.7 1167.1,723.6 1167.9,721.8 1168.7,719.4 1169.5,717.5 1170.3,716.3 1171.2,714.6 1172,713.2 1172.8,713 1173.6,711.8 1174.4,710.7 1175.2,710.3 1176,709.3 1176.8,708.5 1177.6,708.3 1178.4,707.3 1179.2,707.1 1180.1,706.4 1180.9,706.3 1181.7,705.6 1182.5,706 1183.3,705.1 1184.1,705.5 1184.9,704.3 1185.7,704.5 1186.5,704.4 1187.4,704.2 1188.2,703.8 1189,703.4 1189.8,703.1 1190.6,702.9 1191.4,703 1192.2,702.2 1193,702.2 1193.8,702 1194.6,702.3 1195.5,702.1 1196.3,701.8 1197.1,701.3 1197.9,701.5 1198.7,701.4 1199.5,701.3 1200.3,700.7 1201.1,701.2 1201.9,701.4 1202.7,700.6 1203.6,700.3 1204.4,700.4 1205.2,700.5 1206,700.2 1206.8,700.6 1207.6,700.2 1208.4,700.7 1209.2,700.5 1210,700 1210.8,699.8 1211.7,699.8 1212.5,700.1 1213.3,699.2 1214.1,699.2 1214.9,699.3 1215.7,699.1 1216.5,698.8 1217.3,698.8 1218.1,698.7 1218.9,697.6 1219.8,697.3 1220.6,697.4 1221.4,697 1222.2,697.3 1223,696.6 1223.8,697 1224.6,696.2 1225.4,696.2 1226.2,695.6 1227,696.2 1227.9,695.2 1228.7,695.7 1229.5,695 1230.3,694.3 1231.1,695.1 1231.9,694.6 1232.7,694.3 1233.5,694 1234.3,694.1 1235.1,692.9 1236,692.7 1236.8,692.9 1237.6,692.7 1238.4,692.2 1239.2,692.5 1240,692.3 1240.8,691.1 1241.6,691.4 1242.4,691 1243.2,690.2 1244.1,689.9 1244.9,690.2 1245.7,690.2 1246.5,689.8 1247.3,688.8 1248.1,688.5 1248.9,689 1249.7,688 1250.5,688.2 1251.3,687.8 1252.2,687.8 1253,686.7 1253.8,686.3 1254.6,686.8 1255.4,686.1 1256.2,686.2 1257,685.2 1257.8,685.8 1258.6,685.4 1259.4,684.4 1260.2,684.5 1261.1,683.6 1261.9,683.3 1262.7,683.1 1263.5,683.4 1264.3,682.5 1265.1,681.9 1265.9,682.2 1266.7,682.2 1267.5,681.8 1268.4,681.4 1269.2,680.6 1270,680.9 1270.8,680.6 1271.6,680.2 1272.4,679.5 1273.2,679 1274,679.2 1274.8,678.6 1275.6,678 1276.5,678.1 1277.3,678.2 1278.1,677.8 1278.9,676.8 1279.7,676.8 1280.5,677 1281.3,676.3 1282.1,676.6 1282.9,675.3 1283.7,675.6 1284.6,675.2 1285.4,674.9 1286.2,675.2 1287,674.3 1287.8,674.4 1288.6,674.1 1289.4,673.2 1290.2,673.7 1291,673.2 1291.8,672.4 1292.7,672.7 1293.5,672.3 1294.3,671.8 1295.1,671.9 1295.9,670.8 1296.7,670.4 1297.5,671.2 1298.3,670.4 1299.1,669.8 1299.9,669.9 1300.8,669 1301.6,669.2 1302.4,669.2 1303.2,668.5 1304,668.1 1304.8,668.1 1305.6,667.4 1306.4,667 1307.2,667 1308,666.7 1308.9,666 1309.7,665.9 1310.5,665.8 1311.3,665 1312.1,665.5 1312.9,664.6 1313.7,664.9 1314.5,664.1 1315.3,664.3 1316.1,663.7 1317,663.1 1317.8,662.8 1318.6,662.5 1319.4,662.8 1320.2,662.3 1321,662.3 1321.8,661.6 1322.6,661.4 1323.4,661.7 1324.2,660.8 1325.1,660.4 1325.9,660.3 1326.7,659.8 1327.5,660.3 1328.3,660.1 1329.1,660 1329.9,659.2 1330.7,659.1 1331.5,658.9 1332.3,658.8 1333.2,658 1334,658.6 1334.8,657.5 1335.6,657.7 1336.4,657.5 1337.2,657 1338,657.4 1338.8,657.3 1339.6,656.9 1340.4,657 1341.2,656.5 1342.1,656 1342.9,655.9 1343.7,655.9 1344.5,655.4 1345.3,655.7 1346.1,654.7 1346.9,655.2 1347.7,654.9 1348.5,654.8 1349.4,654 1350.2,653.6 1351,653.4 1351.8,654 1352.6,653.3 1353.4,653.1 1354.2,653 1355,651.9 1355.8,652.6 1356.6,651.8 1357.5,651.1 1358.3,650.5 1359.1,651.1 1359.9,650.4 1360.7,649.7 1361.5,650.1 1362.3,649.6 1363.1,648.7 1363.9,649.3 1364.7,648.8 1365.6,648.8 1366.4,648.7 1367.2,649.1 1368,649.3 1368.8,648.3 1369.6,648.7 1370.4,648.8 1371.2,649.5 1372,649.5 1372.8,649.1 1373.7,649.3 1374.5,649 1375.3,648.3 1376.1,648.7 1376.9,648.6 1377.7,647.6 1378.5,647.8 1379.3,648.2 1380.1,647.5 1380.9,647 1381.8,647.3 1382.6,646.7 1383.4,646.1 1384.2,645.6 1385,645.6 1385.8,645 1386.6,645.2 1387.4,644.9 1388.2,644.1 1389,644.4 1389.9,643.6 1390.7,644 1391.5,643.5 1392.3,643.4 1393.1,642.7 1393.9,642.9 1394.7,642.6 1395.5,642.3 1396.3,641.8 1397.1,641.7 1398,641.3 1398.8,640.4 1399.6,640.5 1400.4,640.1 1401.2,640.6 1402,640.1 1402.8,640.2 1403.6,639.3 1404.4,639.5 1405.2,639.3 1406.1,639.4 1406.9,639 1407.7,638.6 1408.5,638.3 1409.3,637.5 1410.1,637.5 1410.9,637.7 1411.7,637.4 1412.5,637.4 1413.3,636.3 1414.2,636.7 1415,636 1415.8,635.8 1416.6,635.4 1417.4,636.1 1418.2,635.6 1419,635.3 1419.8,635.3 1420.6,634.2 1421.4,634.6 1422.2,633.8 1423.1,633.9 1423.9,634.1 1424.7,633.4 1425.5,633.3 1426.3,633.1 1427.1,632.4 1427.9,631.3 1428.7,630.8 1429.5,629.9 1430.4,630.2 1431.2,631.1 1432,632.9 1432.8,633.8 1433.6,636 1434.4,637.2" fill="none" stroke="#ff1a1a" stroke-width="1.9" stroke-linejoin="round"/><polyline points="1132.3,762.5 1133.1,759.9 1133.9,755.7 1134.7,749.5 1135.5,742 1136.3,735.7 1137.1,730.1 1137.9,725.4 1138.8,722.1 1139.6,718.6 1140.4,715.2 1141.2,712 1142,708.8 1142.8,705.6 1143.6,702 1144.4,699.2 1145.2,696.1 1146,693.1 1146.9,690.7 1147.7,687.7 1148.5,684.9 1149.3,683.3 1150.1,680.9 1150.9,679.2 1151.7,677.3 1152.5,675.9 1153.3,675 1154.1,673.3 1155,672.5 1155.8,671 1156.6,669.8 1157.4,669 1158.2,667.6 1159,666.6 1159.8,665.5 1160.6,664.9 1161.4,664.2 1162.2,663.2 1163.1,662.4 1163.9,662 1164.7,660.8 1165.5,660.5 1166.3,660 1167.1,659.2 1167.9,658.6 1168.7,658.3 1169.5,657.4 1170.3,656.8 1171.2,656.3 1172,655.6 1172.8,655.7 1173.6,654.8 1174.4,654.3 1175.2,654.1 1176,653.3 1176.8,653.1 1177.6,652.2 1178.4,651.7 1179.2,651.4 1180.1,651 1180.9,650.6 1181.7,650.4 1182.5,649.7 1183.3,648.9 1184.1,648.8 1184.9,648.7 1185.7,648.1 1186.5,648.2 1187.4,647.6 1188.2,647.2 1189,646.6 1189.8,646.9 1190.6,646.4 1191.4,645.8 1192.2,645.7 1193,645.5 1193.8,645.3 1194.6,645.2 1195.5,644.9 1196.3,644.8 1197.1,644 1197.9,643.7 1198.7,643.9 1199.5,643.2 1200.3,643.7 1201.1,643.4 1201.9,642.8 1202.7,642.7 1203.6,642.4 1204.4,641.6 1205.2,642.1 1206,641.8 1206.8,641.5 1207.6,640.9 1208.4,641.1 1209.2,641 1210,640.3 1210.8,640.2 1211.7,640.1 1212.5,639.7 1213.3,639.3 1214.1,639.2 1214.9,638.9 1215.7,638.8 1216.5,638.3 1217.3,638 1218.1,638.4 1218.9,638.2 1219.8,637.5 1220.6,637.8 1221.4,637.3 1222.2,637.1 1223,637 1223.8,636.6 1224.6,636.5 1225.4,636.9 1226.2,636.4 1227,636.3 1227.9,636.1 1228.7,636.1 1229.5,636 1230.3,635.5 1231.1,635.5 1231.9,635.6 1232.7,635.5 1233.5,635.2 1234.3,635.2 1235.1,634.8 1236,635 1236.8,634.9 1237.6,634.7 1238.4,634.6 1239.2,633.9 1240,634.2 1240.8,633.8 1241.6,633.4 1242.4,633.5 1243.2,633.6 1244.1,632.8 1244.9,632.7 1245.7,633.3 1246.5,632.9 1247.3,632.6 1248.1,632.2 1248.9,632.4 1249.7,632 1250.5,632.2 1251.3,631.7 1252.2,631.9 1253,631.7 1253.8,631.2 1254.6,631 1255.4,630.9 1256.2,630.9 1257,630.9 1257.8,630.5 1258.6,630.5 1259.4,630.2 1260.2,630 1261.1,630.5 1261.9,630.1 1262.7,629.7 1263.5,630 1264.3,629.9 1265.1,629.9 1265.9,629.3 1266.7,628.8 1267.5,628.7 1268.4,629.3 1269.2,628.6 1270,628.7 1270.8,628.4 1271.6,628.5 1272.4,627.9 1273.2,627.7 1274,628.4 1274.8,627.7 1275.6,628.1 1276.5,628 1277.3,627.7 1278.1,627.1 1278.9,626.8 1279.7,627.4 1280.5,627.1 1281.3,627.2 1282.1,626.7 1282.9,626.6 1283.7,626.6 1284.6,626.5 1285.4,625.9 1286.2,625.8 1287,626.1 1287.8,625.9 1288.6,625.6 1289.4,625.4 1290.2,625 1291,625.4 1291.8,625.1 1292.7,625.1 1293.5,624.7 1294.3,625.2 1295.1,625 1295.9,625 1296.7,624.1 1297.5,624.6 1298.3,624.3 1299.1,624.5 1299.9,624.2 1300.8,624.3 1301.6,623.7 1302.4,624 1303.2,623.4 1304,623.6 1304.8,623.6 1305.6,623.2 1306.4,623.2 1307.2,623.2 1308,623.2 1308.9,623.1 1309.7,622.2 1310.5,622.6 1311.3,622.7 1312.1,622.5 1312.9,622.1 1313.7,621.5 1314.5,622.1 1315.3,621.4 1316.1,621.6 1317,621.5 1317.8,621 1318.6,621.2 1319.4,621.4 1320.2,620.8 1321,620.6 1321.8,620.5 1322.6,620.6 1323.4,619.9 1324.2,619.8 1325.1,619.5 1325.9,619.9 1326.7,619.4 1327.5,619.3 1328.3,619.6 1329.1,619.6 1329.9,619.3 1330.7,619.2 1331.5,619.1 1332.3,618.7 1333.2,618.2 1334,618.5 1334.8,618.1 1335.6,618.4 1336.4,618.1 1337.2,617.3 1338,618 1338.8,617.5 1339.6,617.1 1340.4,617 1341.2,616.9 1342.1,617.1 1342.9,616.6 1343.7,616.5 1344.5,616.4 1345.3,616.1 1346.1,616.8 1346.9,615.9 1347.7,616.3 1348.5,615.9 1349.4,616.2 1350.2,615.5 1351,616.2 1351.8,615.6 1352.6,615.8 1353.4,615.6 1354.2,615.5 1355,615.1 1355.8,614.9 1356.6,615.2 1357.5,614.9 1358.3,615 1359.1,615 1359.9,614.4 1360.7,614.8 1361.5,614.9 1362.3,614.6 1363.1,614.2 1363.9,614.6 1364.7,614 1365.6,614.1 1366.4,613.9 1367.2,614.3 1368,614.3 1368.8,614.2 1369.6,613.9 1370.4,613.8 1371.2,614 1372,613.5 1372.8,613.6 1373.7,613.6 1374.5,613.3 1375.3,612.9 1376.1,613.5 1376.9,612.8 1377.7,613.2 1378.5,612.8 1379.3,613.3 1380.1,612.4 1380.9,612.9 1381.8,612.3 1382.6,612.9 1383.4,612.7 1384.2,612.4 1385,612.8 1385.8,612.6 1386.6,612.2 1387.4,611.9 1388.2,612.4 1389,612.5 1389.9,612.3 1390.7,611.7 1391.5,612.4 1392.3,611.9 1393.1,612 1393.9,611.8 1394.7,612.1 1395.5,611.7 1396.3,611.4 1397.1,611.4 1398,611.5 1398.8,611.6 1399.6,611.5 1400.4,611.8 1401.2,611.1 1402,611.2 1402.8,611.4 1403.6,611.1 1404.4,611.3 1405.2,611.3 1406.1,611.4 1406.9,611 1407.7,611 1408.5,611 1409.3,611.4 1410.1,610.8 1410.9,610.9 1411.7,610.7 1412.5,610.7 1413.3,610.4 1414.2,611 1415,610.7 1415.8,610.2 1416.6,610.4 1417.4,610.7 1418.2,610.3 1419,610.1 1419.8,610.5 1420.6,610.1 1421.4,610.7 1422.2,609.9 1423.1,610.4 1423.9,610.6 1424.7,610 1425.5,610.2 1426.3,609.9 1427.1,610.1 1427.9,610.1 1428.7,610.4 1429.5,610 1430.4,611 1431.2,610.6 1432,612.8 1432.8,614.8 1433.6,616.5 1434.4,619.2" fill="none" stroke="#111" stroke-width="2" stroke-linejoin="round"/><line x1="1370.7" y1="619" x2="1370.7" y2="786" stroke="#ff22ff" stroke-width="1.6"/><polygon points="1370.7,612.5 1367.5,620 1373.9,620" fill="#ff22ff"/><polygon points="1370.7,791.5 1367.5,784 1373.9,784" fill="#ff22ff"/><line x1="1363.5" y1="657" x2="1363.5" y2="788" stroke="#2a2af0" stroke-width="1.6"/><polygon points="1363.5,651 1360.3,659 1366.7,659" fill="#2a2af0"/><polygon points="1363.5,793 1360.3,786 1366.7,786" fill="#2a2af0"/><text x="1370.3" y="601.5" text-anchor="start" font-family='"Liberation Sans", sans-serif' font-size="13" fill="#555">2000 nm</text><text x="1295.2" y="614.2" text-anchor="start" font-family='"Liberation Sans", sans-serif' font-size="13" fill="#444">HVO<tspan font-size="0.72em" dy="0.3em" dx="-0.5">2</tspan></text><text x="1152.5" y="647.4" text-anchor="start" font-family='"Liberation Sans", sans-serif' font-size="13" fill="#555">72%</text><text x="1186" y="681.4" text-anchor="start" font-family='"Liberation Sans", sans-serif' font-size="13" fill="#555">650 nm</text><text x="1154.5" y="711" text-anchor="start" font-family='"Liberation Sans", sans-serif' font-size="13" fill="#555">56%</text><text x="1283.6" y="651.6" text-anchor="start" font-family='"Liberation Sans", sans-serif' font-size="13" fill="#ff2020">VO<tspan font-size="0.72em" dy="0.3em" dx="-0.5">2</tspan><tspan dy="-0.3em"> at 25</tspan><tspan font-size="0.7em" dy="-0.45em">o</tspan><tspan dy="0.45em">C</tspan></text><text x="1373.7" y="695" text-anchor="start" font-family='"Liberation Sans", sans-serif' font-size="13" fill="#ff30ff">&#916;-49.1%</text><text x="1306.6" y="719.7" text-anchor="start" font-family='"Liberation Sans", sans-serif' font-size="13" fill="#3030f0">&#916;-40.3%</text><text x="1379.3" y="782.5" text-anchor="start" font-family='"Liberation Sans", sans-serif' font-size="13" fill="#ff30ff">H<tspan font-style="italic">x</tspan>VO<tspan font-size="0.72em" dy="0.3em" dx="-0.5">2</tspan></text><text x="1284.4" y="808.3" text-anchor="start" font-family='"Liberation Sans", sans-serif' font-size="13" fill="#3030f0">VO<tspan font-size="0.72em" dy="0.3em" dx="-0.5">2</tspan><tspan dy="-0.3em"> at 90</tspan><tspan font-size="0.7em" dy="-0.45em">o</tspan><tspan dy="0.45em">C</tspan></text>
</svg>
</body></html>
